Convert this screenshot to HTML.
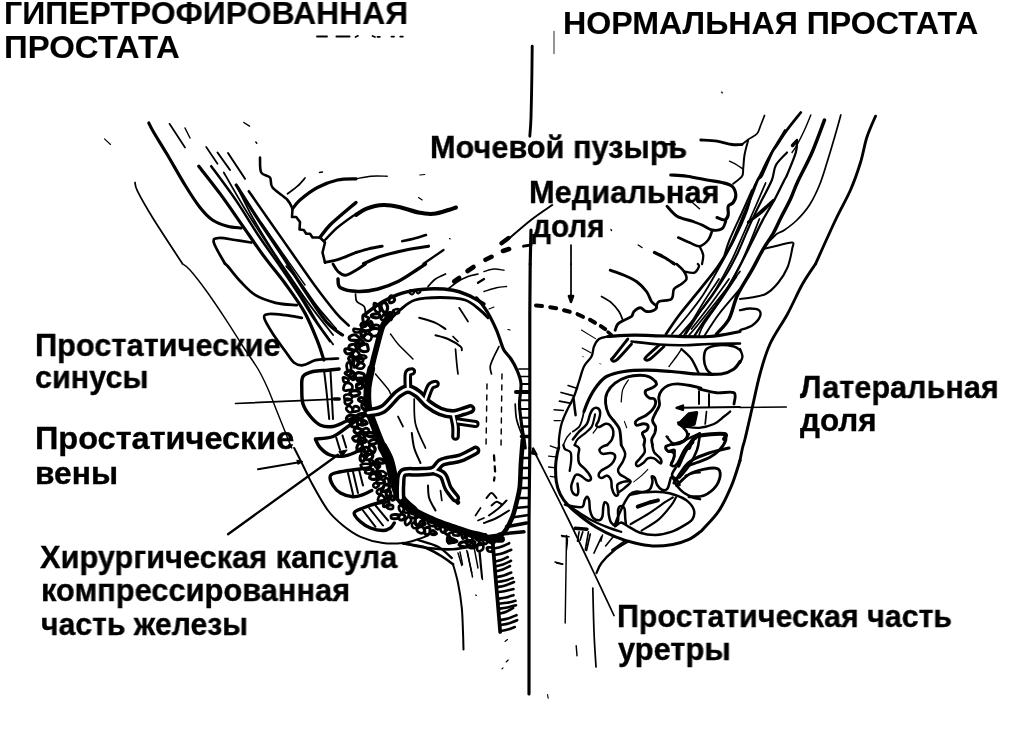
<!DOCTYPE html>
<html lang="ru">
<head>
<meta charset="utf-8">
<title>Простата</title>
<style>
html,body{margin:0;padding:0;background:#fff;}
body{width:1024px;height:736px;position:relative;overflow:hidden;font-family:"Liberation Sans",Arial,sans-serif;font-weight:bold;color:#000;}
.t{position:absolute;white-space:nowrap;line-height:1;transform-origin:0 0;will-change:transform;}
.h{font-size:32px;-webkit-text-stroke:0.12px #000;}
.l{font-size:31px;-webkit-text-stroke:0.35px #000;}
svg{position:absolute;left:0;top:0;}
</style>
</head>
<body>
<svg id="art" width="1024" height="736" viewBox="0 0 1024 736" fill="none" stroke="#000" stroke-width="2" stroke-linecap="round" stroke-linejoin="round">
<g>
<path d="M104.5 138.8L110.5 144.5" stroke-width="1.15"/>
<path d="M148.8 123C149.6 124.6 150.7 127.2 153.8 132.5C156.9 137.8 162.3 146.2 167.5 155C172.7 163.8 179.6 176.2 185 185C190.4 193.8 195.4 201.7 200 207.5C204.6 213.3 207.9 216.9 212.5 220C217.1 223.1 222.7 224.9 227.5 226.2C232.3 227.5 238.9 227.7 241.2 228" stroke-width="3.16"/>
<path d="M169.5 123.8L185 147.5" stroke-width="1.72"/>
<path d="M185 128L190 138" stroke-width="1.44"/>
<path d="M243.8 122.5L249.5 126.2" stroke-width="1.44"/>
<path d="M255.8 142L256.8 143.2" stroke-width="1.44"/>
<path d="M135 182.5C135.4 183.9 134.6 185.4 137.5 191.2C140.4 197.0 145.0 205.4 152.5 217.5C160.0 229.6 177.5 256.1 182.5 263.8" stroke-width="1.72"/>
<path d="M206.2 147L217.5 163.8" stroke-width="1.72"/>
<path d="M217.5 152.5L230 170" stroke-width="2.01"/>
<path d="M228 153L245 178.8" stroke-width="2.01"/>
<path d="M260 157.5C260.2 160.0 259.5 169.2 261.2 172.5C262.9 175.8 268.1 175.0 270 177.5C271.9 180.0 269.6 183.8 272.5 187.5C275.4 191.2 284.2 196.4 287.5 200C290.8 203.6 291.7 207.3 292.5 208.8" stroke-width="2.59"/>
<path d="M292.5 208.8L292 217L296.2 217L300 222L299.5 229.5L303.8 230L306.2 233.8L310 233.8L312.5 237.5L320 237.5L325 242.5L322.5 252.5L325 262.5" stroke-width="2.59"/>
<path d="M292.5 208.8C293.8 207.3 295.8 203.6 300 200C304.2 196.4 311.2 190.8 317.5 187.5C323.8 184.2 331.1 181.4 337.5 180C343.9 178.6 352.9 179.0 356 178.8" stroke-width="3.16"/>
<path d="M287.5 193.8C289.2 192.5 294.6 188.8 297.5 186.2C300.4 183.6 303.8 179.4 305 178" stroke-width="1.72"/>
<path d="M319.5 172.5L322.5 172" stroke-width="1.44"/>
<path d="M320 237.5C321.7 235.4 325.0 230.0 330 225C335.0 220.0 345.7 211.2 350 207.5C354.3 203.8 355.0 203.3 356 202.5" stroke-width="3.45"/>
<path d="M325 240C327.1 237.9 332.3 231.9 337.5 227.5C342.7 223.1 352.9 216.1 356 213.8" stroke-width="2.3"/>
<path d="M325 262.5C327.5 261.9 334.8 260.5 340 258.8C345.2 257.1 353.3 253.6 356 252.5" stroke-width="2.88"/>
<path d="M225 263.8C223.1 260.2 214.8 246.8 213.8 242.5C212.8 238.2 215.3 238.4 218.8 238C222.3 237.6 229.6 239.2 235 240C240.4 240.8 248.5 242.1 251.2 242.5" stroke-width="2.73"/>
<path d="M532.2 46.2C532.1 51.8 532.0 68.1 531.8 80C531.6 91.9 531.3 108.1 531 117.5C530.7 126.9 530.0 133.1 529.8 136.2" stroke-width="2.88"/>
<path d="M531 230L530.2 264" stroke-width="3.16"/>
<path d="M356 178.8C358.5 178.4 365.8 176.6 371 176.2C376.2 175.8 384.5 176.2 387.2 176.2" stroke-width="1.44"/>
<path d="M419.8 175L424.8 174.5" stroke-width="1.15"/>
<path d="M418.5 197.5L422.2 200" stroke-width="1.15"/>
<path d="M356 215C357.7 214.0 361.4 210.5 366 208.8C370.6 207.1 377.7 205.2 383.5 205C389.3 204.8 395.2 206.2 401 207.5C406.8 208.8 413.1 211.4 418.5 212.5C423.9 213.6 428.5 214.2 433.5 213.8C438.5 213.4 444.8 211.1 448.5 210C452.2 208.9 454.8 207.9 456 207.5" stroke-width="4.02"/>
<path d="M402.2 241.2C404.1 240.8 409.5 239.8 413.5 238.8C417.5 237.8 423.9 235.6 426 235" stroke-width="2.59"/>
<path d="M356 252.5C358.1 251.9 364.1 249.9 368.5 248.8C372.9 247.8 379.9 246.6 382.2 246.2" stroke-width="2.88"/>
<path d="M363.5 263.8C366.4 262.5 373.9 258.5 381 256.2C388.1 253.9 398.1 251.7 406 250C413.9 248.3 424.8 246.8 428.5 246.2" stroke-width="3.16"/>
<path d="M423.5 263.8 L443.5 250" stroke-width="2.3"/>
<path d="M449.5 238.5L450.2 239" stroke-width="1.15"/>
<path d="M552.2 205C548.7 207.5 538.7 214.0 531 220C523.3 226.0 510.2 237.7 506 241.2" stroke-width="2.01"/>
<path d="M501.5 243.2L508.5 238" stroke-width="4.31"/>
<path d="M503 251L509 249" stroke-width="4.6"/>
<path d="M485.5 259.8L491.5 256.8" stroke-width="4.6"/>
<path d="M523.5 246.2L531 245" stroke-width="2.88"/>
<path d="M571 245L571 264" stroke-width="1.72"/>
<path d="M611 229.5L611.5 230.5" stroke-width="1.44"/>
<path d="M721.8 92.2L722.2 92.8" stroke-width="1.44"/>
<path d="M665 144.2L674.5 144.2" stroke-width="2.59"/>
<path d="M700.8 140C703.5 140.2 711.8 140.4 717 141.2C722.2 141.9 727.8 143.9 732 144.5C736.2 145.1 740.3 144.5 742 144.5" stroke-width="2.88"/>
<path d="M742 144.5C743.0 143.7 745.7 141.3 748.2 139.5C750.7 137.7 754.9 136.2 757 133.8C759.1 131.4 759.5 128.1 760.8 125C762.0 122.0 763.9 117.1 764.5 115.5" stroke-width="1.72"/>
<path d="M748.2 140C747.6 142.5 745.3 150.2 744.5 155C743.7 159.8 743.6 165.3 743.2 168.8C742.8 172.3 743.7 173.7 742 176.2C740.3 178.7 734.7 182.5 733.2 183.8" stroke-width="2.01"/>
<path d="M729.5 161.2C730.8 161.8 734.8 163.7 737 165C739.2 166.3 741.6 168.2 742.5 168.8" stroke-width="1.44"/>
<path d="M670.8 175C673.5 175.2 681.0 175.4 687 176.2C693.0 177.0 701.2 178.9 707 180C712.8 181.1 717.8 181.5 722 182.5C726.2 183.5 729.7 184.1 732 186.2C734.3 188.3 735.6 192.3 735.8 195C736.0 197.7 734.5 200.6 733.2 202.5C731.9 204.4 729.0 204.1 728.2 206.2C727.4 208.3 728.8 212.7 728.2 215C727.6 217.3 726.4 219.6 724.5 220C722.6 220.4 718.2 217.9 717 217.5" stroke-width="3.16"/>
<path d="M667 206.2C668.7 207.9 672.8 213.7 677 216.2C681.2 218.7 687.8 219.7 692 221.2C696.2 222.7 698.7 223.5 702 225C705.3 226.5 708.7 229.4 712 230C715.3 230.6 719.7 230.3 722 228.8C724.3 227.3 725.2 222.5 725.8 221.2" stroke-width="2.88"/>
<path d="M689.5 200L699.5 208.8" stroke-width="1.44"/>
<path d="M678.2 237.5C680.1 238.3 686.0 241.1 689.5 242.5C693.0 243.9 696.4 246.6 699.5 246.2C702.6 245.8 706.1 242.5 708.2 240C710.3 237.5 711.4 232.7 712 231.2" stroke-width="2.59"/>
<path d="M699.5 246.2C700.1 247.7 702.8 252.0 703.2 255C703.6 258.0 702.2 262.5 702 264" stroke-width="2.3"/>
<path d="M654.5 252.5C656.2 253.3 661.2 255.6 664.5 257.5C667.8 259.4 672.8 262.9 674.5 264" stroke-width="3.16"/>
<path d="M638.2 245L642 247.5" stroke-width="1.44"/>
<path d="M875.5 116.2C874.0 119.8 869.3 129.8 866.8 137.5C864.3 145.2 863.2 153.8 860.5 162.5C857.8 171.2 854.7 180.4 850.5 190C846.3 199.6 841.3 207.7 835.5 220C829.7 232.3 818.8 256.7 815.5 264" stroke-width="2.88"/>
<path d="M840.8 115C839.8 118.8 836.8 129.6 834.5 137.5C832.2 145.4 829.5 154.6 827 162.5C824.5 170.4 822.4 177.9 819.5 185C816.6 192.1 813.2 199.2 809.5 205C805.8 210.8 801.2 215.8 797 220C792.8 224.2 787.8 227.7 784.5 230C781.2 232.3 779.5 231.9 777 233.8C774.5 235.7 770.8 240.0 769.5 241.2" stroke-width="1.72"/>
<path d="M810.8 115C809.8 117.5 806.8 125.0 804.5 130C802.2 135.0 799.1 141.2 797 145C794.9 148.8 792.8 151.2 792 152.5" stroke-width="1.44"/>
<path d="M792.5 145.5L796.5 141.2" stroke-width="3.45"/>
<path d="M774.5 200C772.4 202.1 765.8 209.2 762 212.5C758.2 215.8 753.7 218.8 752 220" stroke-width="1.72"/>
<path d="M752 190C750.3 193.8 745.8 204.2 742 212.5C738.2 220.8 732.4 232.9 729.5 240C726.6 247.1 725.3 252.5 724.5 255" stroke-width="2.01"/>
<path d="M225 263.5C225.5 264.0 225.4 263.5 228 266.5C230.6 269.5 235.9 276.7 240.5 281.5C245.1 286.3 249.7 291.6 255.5 295.2C261.3 298.8 268.6 301.1 275.5 302.8C282.4 304.5 293.2 304.8 296.8 305.2" stroke-width="2.73"/>
<path d="M301.8 317.8C299.1 317.4 290.9 315.8 285.5 315.2C280.1 314.6 272.8 313.6 269.2 314C265.6 314.4 263.6 314.5 264.2 317.8C264.8 321.1 269.4 328.4 273 334C276.6 339.6 282.0 346.7 285.5 351.5C289.0 356.3 291.3 360.5 294.2 362.8C297.1 365.1 299.4 365.6 303 365.2C306.6 364.8 311.3 361.2 315.5 360.2C319.7 359.2 324.2 359.3 328 359C331.8 358.7 336.3 358.6 338 358.5" stroke-width="2.73"/>
<path d="M339.2 369C337.3 369.2 332.4 369.8 328 370.2C323.6 370.6 317.2 370.4 313 371.5C308.8 372.6 304.9 373.6 303 376.5C301.1 379.4 301.8 384.4 301.8 389C301.8 393.6 301.6 399.4 303 404C304.4 408.6 307.6 413.0 310.5 416.5C313.4 420.0 316.8 423.5 320.5 425.2C324.2 426.9 328.8 427.1 333 426.5C337.2 425.9 342.2 422.9 345.5 421.5C348.8 420.1 351.8 418.4 353 417.8" stroke-width="3.45"/>
<path d="M324.2 371.5C324.6 375.2 326.0 386.1 326.8 394C327.6 401.9 328.8 414.8 329.2 419" stroke-width="2.01"/>
<path d="M330.5 371.5 L333 419" stroke-width="2.01"/>
<path d="M182.5 264C183.8 265.0 185.8 265.2 190 270C194.2 274.8 201.2 283.7 207.5 292.5C213.8 301.3 222.1 313.8 228 322.8C233.9 331.8 238.0 338.8 243 346.5C248.0 354.2 253.8 361.9 258 369C262.2 376.1 264.7 381.5 268 389C271.3 396.5 274.7 405.7 278 414C281.3 422.3 285.7 433.3 288 439C290.3 444.7 291.2 446.5 291.8 448" stroke-width="1.44"/>
<path d="M235.5 403.5L335.5 399.2" stroke-width="1.72"/>
<path d="M334.2 399L339.2 399" stroke-width="3.45"/>
<path d="M338 279C338.4 280.5 337.2 285.7 340.5 287.8C343.8 289.9 351.8 291.3 358 291.5C364.2 291.7 371.3 290.7 378 289C384.7 287.3 391.3 284.8 398 281.5C404.7 278.2 413.4 271.9 418 269C422.6 266.1 424.2 264.8 425.5 264" stroke-width="3.45"/>
<path d="M333 264C333.8 265.2 335.9 269.6 338 271.5C340.1 273.4 342.2 275.6 345.5 275.2C348.8 274.8 354.7 270.9 358 269C361.3 267.1 364.2 264.8 365.5 264" stroke-width="2.88"/>
<path d="M355.5 294C355.7 295.2 355.4 299.4 356.8 301.5C358.2 303.6 362.8 304.4 364.2 306.5C365.6 308.6 365.3 312.8 365.5 314" stroke-width="1.72"/>
<path d="M365.5 314C368.4 311.9 376.8 305.0 383 301.5C389.2 298.0 395.5 294.9 403 292.8C410.5 290.7 419.7 289.4 428 289C436.3 288.6 446.3 289.2 453 290.2C459.7 291.2 462.8 292.9 468 295.2C473.2 297.5 481.3 302.5 484 304" stroke-width="3.45"/>
<path d="M385 325C387.5 322.5 395.0 314.2 400 310C405.0 305.8 408.3 302.1 415 300C421.7 297.9 431.7 297.5 440 297.5C448.3 297.5 458.3 297.9 465 300C471.7 302.1 476.2 307.0 480 310C483.8 313.0 486.7 316.5 488 317.8" stroke-width="2.88"/>
<path d="M428 286.5C429.2 285.2 432.6 281.1 435.5 279C438.4 276.9 443.8 274.8 445.5 274" stroke-width="1.72"/>
<path d="M448 289C449.7 287.8 454.7 283.6 458 281.5C461.3 279.4 464.7 277.8 468 276.5C471.3 275.2 476.3 274.4 478 274" stroke-width="1.72"/>
<path d="M454.2 281.5L459.2 278" stroke-width="4.6"/>
<path d="M467.5 271L473.5 267" stroke-width="4.6"/>
<path d="M478 282.8L484 279" stroke-width="2.3"/>
<path d="M419.2 317.8C421.9 318.6 431.1 320.9 435.5 322.8C439.9 324.7 443.8 328.0 445.5 329" stroke-width="2.01"/>
<path d="M435.5 335.2C437.6 335.8 443.8 337.1 448 339C452.2 340.9 458.2 344.6 460.5 346.5C462.8 348.4 461.6 349.6 461.8 350.2" stroke-width="2.01"/>
<path d="M453 336.5L458 341.5" stroke-width="1.72"/>
<path d="M459.2 307.8L468 321.5" stroke-width="1.72"/>
<path d="M455.5 349C455.7 351.5 456.4 359.8 456.8 364C457.2 368.2 457.8 372.3 458 374" stroke-width="1.72"/>
<path d="M390.5 334C391.8 335.7 394.2 339.8 398 344C401.8 348.2 410.5 356.5 413 359" stroke-width="1.44"/>
<path d="M375.5 374C377.6 376.5 385.5 385.7 388 389C390.5 392.3 390.1 393.2 390.5 394" stroke-width="1.44"/>
<path d="M398 416.5L403 426.5" stroke-width="1.72"/>
<path d="M414.2 399C414.4 403.2 413.6 415.8 415.5 424C417.4 432.2 423.8 444.0 425.5 448" stroke-width="1.72"/>
<path d="M390.5 314C389.2 315.9 385.3 319.8 383 325.2C380.7 330.6 378.8 339.2 376.8 346.5C374.8 353.8 372.8 361.9 371.2 369C369.6 376.1 368.1 385.7 367.5 389" stroke-width="5.75"/>
<path d="M371.2 369C370.6 372.3 367.9 382.3 367.5 389C367.1 395.7 367.2 402.3 368.5 409C369.8 415.7 373.1 422.5 375.5 429C377.9 435.5 381.8 444.8 383 448" stroke-width="7.76"/>
<path d="M315.5 439C318.4 438.6 327.6 438.6 333 436.5C338.4 434.4 343.8 429.4 348 426.5C352.2 423.6 356.3 420.2 358 419" stroke-width="3.45"/>
<path d="M408.5 291.5C408.5 290.8 410.9 289.9 411.8 290C412.8 290.1 414.2 291.2 414.2 292C414.2 292.8 412.8 294.6 411.8 294.5C410.9 294.4 408.5 292.2 408.5 291.5Z" stroke-width="2.01"/>
<path d="M416 291C416.1 290.3 417.8 289.4 418.5 289.5C419.2 289.6 420.6 290.8 420.5 291.5C420.4 292.2 418.8 293.6 418 293.5C417.2 293.4 415.9 291.7 416 291Z" stroke-width="2.01"/>
<path d="M530.2 264L529.8 314L529.8 448" stroke-width="3.16"/>
<path d="M571 264L571 299" stroke-width="1.72"/>
<path d="M568.8 296L573.2 296L571 302Z" stroke-width="2.3" fill="#000"/>
<path d="M536 305.5L542 306" stroke-width="4.02"/>
<path d="M550.2 307.2L556.2 308.2" stroke-width="4.02"/>
<path d="M564 310.2L569.8 311.8" stroke-width="4.02"/>
<path d="M577.5 314.2L583 316.8" stroke-width="4.02"/>
<path d="M590 319.8L595 322.8" stroke-width="4.02"/>
<path d="M600.8 326.2L605.2 329.2" stroke-width="4.02"/>
<path d="M608 332L611.5 335" stroke-width="3.45"/>
<path d="M476.5 297.8C477.8 299.3 481.7 303.8 484 307C486.3 310.2 488.1 313.1 490.2 317C492.3 320.9 494.8 326.3 496.5 330.2C498.2 334.1 498.9 336.9 500.2 340.2C501.4 343.5 502.2 347.1 504 350.2C505.8 353.3 508.8 355.7 511 359C513.2 362.3 515.3 366.0 517 370.2C518.7 374.4 520.6 378.4 521 384C521.4 389.6 519.4 397.3 519.5 404C519.6 410.7 520.8 418.2 521.5 424C522.2 429.8 523.4 435.0 524 439C524.6 443.0 525.0 446.5 525.2 448" stroke-width="3.16"/>
<path d="M519 369L529 369" stroke-width="1.72"/>
<path d="M520.2 376.5L529 376.5" stroke-width="1.72"/>
<path d="M521 384L529 384" stroke-width="2.01"/>
<path d="M516 392L529 392" stroke-width="4.02"/>
<path d="M520.2 400.2L529 400.2" stroke-width="2.01"/>
<path d="M519 409L529 409" stroke-width="2.01"/>
<path d="M520.2 417.8L529 417.8" stroke-width="2.01"/>
<path d="M521.5 426.5L529 426.5" stroke-width="2.59"/>
<path d="M521.5 436.5L529 436.5" stroke-width="3.45"/>
<path d="M484 271.5C485.7 271.1 490.7 269.2 494 269C497.3 268.8 502.3 270.0 504 270.2" stroke-width="1.44"/>
<path d="M484 291.5C486.1 290.9 492.8 288.6 496.5 287.8C500.2 287.0 504.8 286.7 506.5 286.5" stroke-width="1.44"/>
<path d="M489 309L494 307" stroke-width="1.15"/>
<path d="M507.8 329.5L510.2 330" stroke-width="1.15"/>
<path d="M499 346.5C498.2 348.2 495.5 353.2 494 356.5C492.5 359.8 490.6 363.6 490.2 366.5C489.8 369.4 491.3 372.8 491.5 374" stroke-width="1.72"/>
<path d="M487 384L486 448" stroke-width="1.44" stroke-dasharray="5 6"/>
<path d="M502 374L501 448" stroke-width="1.44" stroke-dasharray="5 6"/>
<path d="M515.2 404C515.4 406.5 515.5 414.0 516.5 419C517.5 424.0 520.7 431.5 521.5 434" stroke-width="1.72"/>
<path d="M610.2 270.2C612.5 271.0 619.6 273.3 624 275.2C628.4 277.1 632.8 278.8 636.5 281.5C640.2 284.2 644.0 288.2 646.5 291.5C649.0 294.8 649.8 299.0 651.5 301.5C653.2 304.0 656.1 305.1 656.5 306.5C656.9 307.9 655.7 309.4 654 310.2C652.3 311.0 648.8 311.9 646.5 311.5C644.2 311.1 642.3 307.8 640.2 307.8C638.1 307.8 635.5 310.1 634 311.5C632.5 312.9 633.2 315.1 631.5 316.5C629.8 317.9 626.3 318.9 624 320.2C621.7 321.4 619.3 322.3 617.8 324C616.3 325.7 615.6 329.2 615.2 330.2" stroke-width="2.88"/>
<path d="M601.5 296.5C603.2 297.6 608.6 300.3 611.5 302.8C614.4 305.3 617.1 308.6 619 311.5C620.9 314.4 622.2 318.8 622.8 320.2" stroke-width="1.72"/>
<path d="M656.5 306.5C656.9 305.7 656.5 302.8 659 301.5C661.5 300.2 669.0 301.1 671.5 299C674.0 296.9 672.3 291.5 674 289C675.7 286.5 679.4 285.7 681.5 284C683.6 282.3 686.1 281.1 686.5 279C686.9 276.9 685.7 274.0 684 271.5C682.3 269.0 677.8 265.2 676.5 264" stroke-width="2.59"/>
<path d="M684 271.5C685.7 271.7 691.5 273.6 694 272.8C696.5 272.0 698.4 268.0 699 266.5C699.6 265.0 698.0 264.4 697.8 264" stroke-width="2.3"/>
<path d="M607.8 336.5C612.2 336.3 624.2 335.3 634 335.2C643.8 335.1 654.0 335.8 666.5 336C679.0 336.2 696.8 337.2 709 336.5C721.2 335.8 734.8 332.3 740 331.5" stroke-width="3.16"/>
<path d="M631.5 341.5C636.1 342.0 650.2 343.9 659 344.5C667.8 345.1 675.7 345.3 684 345.2C692.3 345.1 699.7 344.3 709 344C718.3 343.7 734.8 343.6 740 343.5" stroke-width="2.59"/>
<path d="M627.8 339C625.5 341.9 616.7 353.1 614 356.5C611.3 359.9 611.1 358.9 611.5 359.5C611.9 360.1 613.2 362.8 616.5 360.2C619.8 357.6 629.0 346.7 631.5 344" stroke-width="2.88"/>
<path d="M659 345.2C656.9 347.1 648.8 354.1 646.5 356.5C644.2 358.9 644.6 359.1 645.2 359.5C645.8 359.9 647.1 361.2 650.2 359C653.3 356.8 661.7 348.6 664 346.5" stroke-width="2.88"/>
<path d="M607.8 336.5C606.3 336.9 601.3 337.3 599 339C596.7 340.7 595.2 343.6 594 346.5C592.8 349.4 593.2 353.2 591.5 356.5C589.8 359.8 586.1 362.3 584 366.5C581.9 370.7 580.7 376.5 579 381.5C577.3 386.5 576.1 391.5 574 396.5C571.9 401.5 568.6 406.9 566.5 411.5C564.4 416.1 562.8 419.4 561.5 424C560.2 428.6 559.4 435.0 559 439C558.6 443.0 559.0 446.5 559 448" stroke-width="2.3"/>
<path d="M584 411.5C584.8 409.4 586.9 403.2 589 399C591.1 394.8 593.6 390.2 596.5 386.5C599.4 382.8 601.9 379.0 606.5 376.5C611.1 374.0 617.3 372.6 624 371.5C630.7 370.4 638.6 370.2 646.5 370.2C654.4 370.2 663.2 370.9 671.5 371.5C679.8 372.1 688.2 373.6 696.5 374C704.8 374.4 715.2 374.8 721.5 374C727.8 373.2 730.9 371.1 734 369C737.1 366.9 739.0 362.8 740 361.5" stroke-width="3.16"/>
<path d="M740 289C736.5 293.2 725.0 306.1 719 314C713.0 321.9 706.5 332.8 704 336.5" stroke-width="2.01"/>
<path d="M740 271.5C736.1 276.5 723.8 292.3 716.5 301.5C709.2 310.7 701.1 320.9 696.5 326.5C691.9 332.1 690.2 333.8 689 335.2" stroke-width="1.72"/>
<path d="M729 279C725.7 283.6 715.2 298.2 709 306.5C702.8 314.8 694.4 325.2 691.5 329" stroke-width="1.72"/>
<path d="M719 279C716.5 282.8 709.8 292.1 704 301.5C698.2 310.9 687.3 329.6 684 335.2" stroke-width="1.72"/>
<path d="M736.5 276.5C734.0 280.2 726.9 291.1 721.5 299C716.1 306.9 707.8 318.0 704 324C700.2 330.0 699.8 333.3 699 335.2" stroke-width="1.72"/>
<path d="M711.5 374C710.7 373.2 707.8 371.5 706.5 369C705.2 366.5 704.0 362.3 704 359C704.0 355.7 704.0 351.3 706.5 349C709.0 346.7 714.4 345.6 719 345.2C723.6 344.8 730.5 345.7 734 346.5C737.5 347.3 739.0 349.6 740 350.2" stroke-width="2.59"/>
<path d="M681.5 349C683.2 350.7 688.6 354.8 691.5 359C694.4 363.2 697.8 371.5 699 374" stroke-width="2.3"/>
<path d="M669 366.5C670.2 364.8 674.4 359.4 676.5 356.5C678.6 353.6 680.7 350.2 681.5 349" stroke-width="1.44"/>
<path d="M699 389C701.9 389.6 710.7 392.2 716.5 392.8C722.3 393.4 731.1 390.9 734 392.8C736.9 394.7 734.0 402.1 734 404" stroke-width="2.88"/>
<path d="M740 407L681.5 407.8" stroke-width="2.01"/>
<path d="M683 405.5L683 410L676.5 407.8Z" stroke-width="2.3" fill="#000"/>
<path d="M699 391.5L699 404" stroke-width="2.01"/>
<path d="M709 394L709 406.5" stroke-width="2.01"/>
<path d="M679 424L689 414L696.5 412.8L694 424L684 426.5Z" stroke-width="3.45" fill="#000"/>
<path d="M684 426.5C686.5 426.7 694.0 428.2 699 427.8C704.0 427.4 709.8 425.9 714 424C718.2 422.1 721.3 418.6 724 416.5C726.7 414.4 729.2 412.3 730.2 411.5" stroke-width="2.3"/>
<path d="M706.5 411.5L705.2 424" stroke-width="1.72"/>
<path d="M689 448C690.2 446.1 690.7 438.8 696.5 436.5C702.3 434.2 719.4 433.6 724 434C728.6 434.4 724.0 438.2 724 439" stroke-width="4.02"/>
<path d="M666.5 436.5C667.8 437.8 671.1 443.2 674 444C676.9 444.8 681.5 443.2 684 441.5C686.5 439.8 688.2 435.2 689 434" stroke-width="2.3"/>
<path d="M815.5 264C813.3 267.3 807.2 275.7 802.5 284C797.8 292.3 792.9 304.0 787.5 314C782.1 324.0 774.6 334.0 770 344C765.4 354.0 762.9 363.6 760 374C757.1 384.4 755.0 395.7 752.5 406.5C750.0 417.3 746.7 432.1 745 439C743.3 445.9 743.3 444.4 742.5 448C741.7 451.6 740.4 458.4 740 460.5" stroke-width="2.88"/>
<path d="M740 310.2C741.7 309.9 746.9 308.5 750 308.5C753.1 308.5 757.1 308.9 758.8 310.2C760.5 311.5 761.0 314.0 760 316.5C759.0 319.0 755.8 322.9 752.5 325.2C749.2 327.5 742.1 329.4 740 330.2" stroke-width="2.3"/>
<path d="M740 349C740.4 350.2 742.5 354.2 742.5 356.5C742.5 358.8 740.4 361.8 740 362.8" stroke-width="2.3"/>
<path d="M786.2 407L740 407.5" stroke-width="1.72"/>
<path d="M258 469.2L299.2 462.2" stroke-width="2.01"/>
<path d="M297 460.2L298 464.2L302.5 461.5Z" stroke-width="1.15" fill="#000"/>
<path d="M228 534.2L338 454.8" stroke-width="2.3"/>
<path d="M339 451.5L342 456.5L347 450Z" stroke-width="1.15" fill="#000"/>
<path d="M294.2 448C295.7 450.9 299.9 459.2 303 465.5C306.1 471.8 308.8 478.0 313 485.5C317.2 493.0 323.0 503.8 328 510.5C333.0 517.2 337.6 521.1 343 525.5C348.4 529.9 353.8 533.9 360.5 536.8C367.2 539.7 375.9 542.0 383 543C390.1 544.0 397.2 543.6 403 543C408.8 542.4 413.8 540.5 418 539.2C422.2 538.0 426.3 536.1 428 535.5" stroke-width="2.01"/>
<path d="M368 468C366.3 468.2 362.6 468.6 358 469.2C353.4 469.8 345.1 470.8 340.5 471.8C335.9 472.9 331.8 473.2 330.5 475.5C329.2 477.8 331.3 482.6 333 485.5C334.7 488.4 337.2 491.1 340.5 493C343.8 494.9 349.1 496.6 353 496.8C356.9 497.0 361.1 495.2 364.2 494.2C367.3 493.1 370.5 491.1 371.8 490.5" stroke-width="3.45"/>
<path d="M348 473L353 494.2" stroke-width="2.01"/>
<path d="M353 471.8L358 493" stroke-width="2.01"/>
<path d="M359.2 470.5L363 485.5" stroke-width="2.01"/>
<path d="M388 501.8C386.3 502.0 382.2 502.0 378 503C373.8 504.0 367.0 506.3 363 508C359.0 509.7 354.6 510.7 354.2 513C353.8 515.3 357.8 519.3 360.5 521.8C363.2 524.3 366.8 526.5 370.5 528C374.2 529.5 379.7 530.5 383 530.5C386.3 530.5 388.6 529.2 390.5 528C392.4 526.8 393.6 523.8 394.2 523" stroke-width="3.45"/>
<path d="M363 510.5L375.5 526.8" stroke-width="2.01"/>
<path d="M369.2 508L383 525.5" stroke-width="2.01"/>
<path d="M375.5 505.5L388 520.5" stroke-width="2.01"/>
<path d="M382.5 446.8C383.6 449.1 387.4 455.3 389.2 460.5C391.0 465.7 391.6 471.8 393.5 478C395.4 484.2 397.2 492.6 400.5 498C403.8 503.4 410.9 508.4 413 510.5" stroke-width="9.77"/>
<path d="M400.5 498C402.6 500.1 407.6 506.8 413 510.5C418.4 514.2 426.3 517.6 433 520.5C439.7 523.4 447.2 525.9 453 528C458.8 530.1 462.8 531.5 468 533C473.2 534.5 481.3 536.2 484 536.8" stroke-width="7.76"/>
<path d="M403 543C407.2 543.8 419.7 547.0 428 548C436.3 549.0 443.7 549.8 453 549.2C462.3 548.6 478.8 545.0 484 544.2" stroke-width="2.59"/>
<path d="M403 543.5C406.3 544.0 416.8 544.8 423 546.8C429.2 548.8 435.5 552.6 440.5 555.5C445.5 558.4 450.9 562.8 453 564.2" stroke-width="2.59"/>
<path d="M418 540C421.3 541.1 432.4 543.8 438 546.8C443.6 549.8 449.5 556.1 451.8 558" stroke-width="2.3"/>
<path d="M453 564.2C453.8 567.3 456.5 575.7 458 583C459.5 590.3 461.0 599.8 461.8 608C462.6 616.2 462.7 625.1 463 632C463.3 638.9 463.4 646.6 463.5 649.5" stroke-width="2.01"/>
<path d="M458 553L461.8 565.5" stroke-width="1.44"/>
<path d="M466.8 550.5L471.8 573" stroke-width="1.44"/>
<path d="M474.2 548L478 568" stroke-width="1.44"/>
<path d="M479.2 553L481.8 578" stroke-width="1.44"/>
<path d="M475.5 515.5L480.5 508" stroke-width="1.72"/>
<path d="M478 520.5L484 518" stroke-width="1.72"/>
<path d="M475.5 595L476.5 595.5" stroke-width="1.15"/>
<path d="M411.8 433C412.2 435.5 412.8 443.0 414.2 448C415.6 453.0 419.4 460.5 420.5 463" stroke-width="2.01"/>
<path d="M456.8 501L458 502.5" stroke-width="4.6"/>
<path d="M428 485.5C428.2 487.6 427.9 493.8 429.2 498C430.4 502.2 434.4 508.4 435.5 510.5" stroke-width="2.01"/>
<path d="M440.5 490.5L441.8 500.5" stroke-width="1.72"/>
<path d="M529.8 448L529 523L529 694" stroke-width="3.16"/>
<path d="M614 615.5C610.7 608.4 601.9 589.7 594 573C586.1 556.3 576.5 535.8 566.5 515.5C556.5 495.2 539.4 461.8 534 451" stroke-width="1.72"/>
<path d="M532 453.5L536.5 454.5L533.2 448.5Z" stroke-width="2.3" fill="#000"/>
<path d="M676.5 485.5C679.0 483.4 685.2 475.9 691.5 473C697.8 470.1 709.2 468.0 714 468C718.8 468.0 719.8 470.1 720.2 473C720.6 475.9 719.2 481.8 716.5 485.5C713.8 489.2 708.6 493.6 704 495.5C699.4 497.4 691.5 496.6 689 496.8" stroke-width="2.88"/>
<path d="M674 483C675.7 480.5 681.1 471.8 684 468C686.9 464.2 687.3 463.0 691.5 460.5C695.7 458.0 702.8 455.1 709 453C715.2 450.9 725.7 448.8 729 448" stroke-width="3.16"/>
<path d="M494 455.5L495.2 473L494 480.5" stroke-width="2.3" stroke-dasharray="5 6"/>
<path d="M522.8 440C522.5 443.8 521.5 455.2 521 463C520.5 470.8 520.5 480.4 519.8 487C519.0 493.6 517.8 497.3 516.5 502.5C515.2 507.7 514.3 512.8 512 518C509.7 523.2 506.7 530.6 502.5 533.8C498.3 537.0 490.1 536.4 487 537C483.9 537.6 484.5 537.4 484 537.5" stroke-width="4.6"/>
<path d="M521.5 458L529 458" stroke-width="2.59"/>
<path d="M521 468L529 468" stroke-width="2.59"/>
<path d="M520.5 478L529 478" stroke-width="2.59"/>
<path d="M519.8 488L529 488" stroke-width="2.59"/>
<path d="M517.8 498L529 498" stroke-width="2.59"/>
<path d="M515.2 508L529 506.8" stroke-width="2.59"/>
<path d="M512 517.5L528.5 515" stroke-width="2.59"/>
<path d="M506.5 526.8L526.5 523" stroke-width="3.45"/>
<path d="M499 534.2L524 531.8" stroke-width="3.45"/>
<path d="M489 539.2L501.5 539.2" stroke-width="6.9"/>
<path d="M486.5 498C487.3 497.2 489.8 493.0 491.5 493C493.2 493.0 495.7 497.2 496.5 498" stroke-width="2.01"/>
<path d="M489 515.5C490.7 514.2 496.1 510.5 499 508C501.9 505.5 505.2 501.8 506.5 500.5" stroke-width="2.01"/>
<path d="M484 523C486.1 522.2 492.3 520.1 496.5 518C500.7 515.9 506.9 511.8 509 510.5" stroke-width="2.01"/>
<path d="M491.5 505.5C492.3 504.9 494.8 502.0 496.5 501.8C498.2 501.6 500.7 503.8 501.5 504.2" stroke-width="2.01"/>
<path d="M493.5 548.5C494.8 548.2 498.6 547.7 501.2 546.8C503.8 545.9 507.9 543.8 509.2 543.2" stroke-width="2.59"/>
<path d="M494 555C495.5 554.7 499.9 554.1 502.8 553.2C505.7 552.3 509.8 550.4 511.2 549.8" stroke-width="2.59"/>
<path d="M494.5 561.5C495.6 561.2 499.0 560.8 501.2 560C503.4 559.2 506.7 557.5 507.8 557" stroke-width="2.59"/>
<path d="M495 566.5C496.3 566.2 500.3 565.5 503 564.5C505.7 563.5 509.7 561.4 511 560.8" stroke-width="2.59"/>
<path d="M495.5 571.5C496.7 571.2 500.4 570.4 502.8 569.5C505.2 568.6 508.8 566.6 510 566" stroke-width="2.59"/>
<path d="M496 577.2C497.3 576.9 501.3 576.3 503.8 575.5C506.3 574.7 510.0 573.0 511.2 572.5" stroke-width="2.59"/>
<path d="M496.2 582.2C497.6 582.0 501.7 581.5 504.5 580.8C507.3 580.1 511.4 578.5 512.8 578" stroke-width="2.59"/>
<path d="M496.8 587.2C498.2 586.9 502.3 586.4 505.2 585.5C508.1 584.6 512.5 582.6 514 582" stroke-width="2.59"/>
<path d="M497.2 592.2C498.6 592.0 502.8 591.5 505.5 591C508.2 590.5 512.2 589.3 513.5 589" stroke-width="2.59"/>
<path d="M497.8 598.8C499.1 598.6 503.2 598.1 505.8 597.5C508.4 596.9 512.2 595.6 513.5 595.2" stroke-width="2.59"/>
<path d="M498.2 603.8C499.6 603.6 503.9 603.3 506.8 602.8C509.7 602.3 514.0 601.1 515.5 600.8" stroke-width="2.59"/>
<path d="M498.5 608.8C499.9 608.6 504.3 608.1 507.2 607.5C510.1 606.9 514.5 605.6 516 605.2" stroke-width="2.59"/>
<path d="M499 613.8C500.2 613.5 503.8 612.8 506.2 611.8C508.6 610.8 512.0 608.5 513.2 607.8" stroke-width="2.59"/>
<path d="M499.5 620.2C500.9 619.9 505.2 619.3 508 618.5C510.8 617.7 515.1 615.8 516.5 615.2" stroke-width="2.59"/>
<path d="M500 625.2C501.4 624.9 505.6 624.3 508.5 623.5C511.4 622.7 515.8 620.8 517.2 620.2" stroke-width="2.59"/>
<path d="M500.5 631C501.7 630.8 505.4 630.2 507.8 629.5C510.2 628.8 513.6 627.4 514.8 627" stroke-width="2.59"/>
<path d="M492.8 543C493.2 548.0 494.4 563.0 495.2 573C496.0 583.0 497.0 593.2 497.8 603C498.6 612.8 499.8 627.2 500.2 632" stroke-width="3.74"/>
<path d="M566.5 535.5L565.2 623" stroke-width="1.44"/>
<path d="M561.5 535.5L569 536.8" stroke-width="1.44"/>
<path d="M556.5 563L562.8 564.2" stroke-width="1.44"/>
<path d="M592.8 588C593.0 595.3 593.5 618.8 594 632C594.5 645.2 595.7 661.2 596 667" stroke-width="1.72"/>
<path d="M576.2 645.8L577 655.8" stroke-width="1.44"/>
<path d="M547.5 694.5L548.2 698.2" stroke-width="1.15"/>
<path d="M555 562L562.5 564" stroke-width="1.44"/>
<path d="M505 641.5L507.5 639.5" stroke-width="1.15"/>
<path d="M506.2 662L508.2 660" stroke-width="1.15"/>
<path d="M502 668.8L503 667.8" stroke-width="1.15"/>
<path d="M460 552L462.5 564.5" stroke-width="1.44"/>
<path d="M467.5 552L472.5 577" stroke-width="1.44"/>
<path d="M480 552L482.5 579.5" stroke-width="1.44"/>
<path d="M724.5 433.8C724.7 434.8 726.6 437.3 725.8 440C725.0 442.7 722.2 447.1 719.5 450C716.8 452.9 713.2 455.4 709.5 457.5C705.8 459.6 700.3 461.2 697 462.5C693.7 463.8 690.8 464.6 689.5 465" stroke-width="2.88"/>
<path d="M699.5 437.5C699.1 439.6 698.7 445.4 697 450C695.3 454.6 692.4 460.4 689.5 465C686.6 469.6 681.2 475.4 679.5 477.5" stroke-width="2.59"/>
<path d="M675.8 467.5C675.2 468.8 671.8 472.9 672 475C672.2 477.1 675.8 478.3 677 480C678.2 481.7 679.1 484.2 679.5 485" stroke-width="2.59"/>
<path d="M678.2 422.5C679.7 424.2 686.0 429.6 687 432.5C688.0 435.4 686.6 438.1 684.5 440C682.4 441.9 677.6 442.8 674.5 443.8C671.4 444.8 666.8 445.0 665.8 446.2C664.8 447.4 666.8 450.6 668.2 451.2C669.7 451.8 673.7 448.5 674.5 450C675.3 451.5 673.8 457.5 673.2 460C672.6 462.5 671.2 464.2 670.8 465" stroke-width="2.59"/>
<path d="M629 541C626.5 542.6 618.6 546.8 614 550.5C609.4 554.2 604.4 559.2 601.5 563C598.6 566.8 597.3 571.3 596.5 573" stroke-width="2.3"/>
<path d="M590.2 534.2L586.5 550.5" stroke-width="1.72"/>
<path d="M601.5 536.8L594 553" stroke-width="1.72"/>
<path d="M582.8 531.8L580.2 540" stroke-width="1.72"/>
<path d="M655.6 381.6C654.6 380.8 652.0 377.9 649.4 376.9C646.8 375.8 643.6 375.3 640 375.3C636.4 375.3 631.7 375.6 627.5 376.9C623.3 378.2 618.4 380.5 615 383.1C611.6 385.7 608.8 389.1 607.2 392.5C605.6 395.9 605.3 399.8 605.6 403.4C605.9 407.0 607.2 411.3 608.8 414.4C610.4 417.5 613.2 419.6 615 422.2C616.8 424.8 618.7 426.2 619.7 430C620.7 433.8 621.0 442.5 621.2 445" stroke-width="2.87"/>
<path d="M655.6 381.6C655.7 382.1 656.9 383.7 656.4 384.7C655.9 385.7 654.2 386.9 652.5 387.8C650.8 388.7 647.4 389.1 646.2 390.2C645.0 391.2 645.0 392.8 645.5 394.1C646.0 395.4 648.0 397.2 649.4 398C650.8 398.8 653.1 397.9 654.1 398.8C655.1 399.7 655.9 401.6 655.6 403.4C655.3 405.2 654.1 407.7 652.5 409.7C650.9 411.7 648.6 413.6 646.2 415.2C643.9 416.8 640.2 417.9 638.4 419.1C636.6 420.3 635.5 421.2 635.3 422.2C635.0 423.2 635.6 425.0 636.9 425.3C638.2 425.6 641.3 423.8 643.1 423.8C644.9 423.8 647.1 424.3 647.8 425.3C648.4 426.3 647.9 428.7 647 430C646.1 431.3 642.7 431.5 642.3 433.1C641.9 434.7 644.4 437.4 644.7 439.4C645.0 441.4 644.0 444.1 643.9 445" stroke-width="2.87"/>
<path d="M628.3 380C627.4 381.6 624.0 385.8 622.8 389.4C621.6 393.0 621.5 399.8 621.2 401.9" stroke-width="1.26"/>
<path d="M624.4 421.4L626.7 427.7" stroke-width="1.08"/>
<path d="M572.8 439.4C573.8 438.1 576.8 434.2 579.1 431.6C581.5 429.0 585.1 426.7 586.9 423.8C588.7 420.9 589.0 416.9 590 414.4C591.0 411.9 591.8 409.9 593.1 408.9C594.4 407.8 596.6 407.5 597.8 408.1C599.0 408.8 600.1 410.7 600.2 412.8C600.3 414.9 599.3 418.5 598.6 420.6C597.9 422.7 596.1 424.2 596.2 425.3C596.3 426.4 597.8 427.1 599.4 426.9C601.0 426.6 603.8 424.1 605.6 423.8C607.4 423.5 609.0 424.0 610.3 425.3C611.6 426.6 613.1 429.2 613.4 431.6C613.7 434.0 612.9 437.2 611.9 439.4C610.9 441.6 608.0 444.1 607.2 445" stroke-width="2.52"/>
<path d="M593.1 433.1L597.8 426.9" stroke-width="1.26"/>
<path d="M574.7 445C575.2 444.1 575.7 441.4 577.5 439.4C579.3 437.4 582.9 435.2 585.3 433.1C587.6 431.0 590.2 429.1 591.6 426.9C593.0 424.7 593.3 421.9 593.9 419.8C594.5 417.7 594.8 415.3 595 414.4" stroke-width="2.16"/>
<path d="M700.9 388.1C699.1 387.7 693.9 386.2 690 385.5C686.1 384.8 681.1 383.9 677.5 383.9C673.9 383.9 670.7 384.4 668.1 385.5C665.5 386.6 663.5 388.2 661.9 390.2C660.3 392.1 659.2 394.7 658.8 397.2C658.4 399.7 660.0 402.4 659.5 405C659.0 407.6 656.8 410.2 655.6 412.8C654.4 415.4 652.5 418.2 652.5 420.6C652.5 423.0 655.2 424.8 655.6 426.9C656.0 429.0 655.4 431.0 654.8 433.1C654.1 435.2 652.1 437.4 651.7 439.4C651.3 441.4 652.4 444.1 652.5 445" stroke-width="2.87"/>
<path d="M667.8 435.9L668.8 436.9" stroke-width="0.9"/>
<path d="M700 433.1C698.3 433.9 693.2 436.2 690 437.8C686.8 439.4 683.5 441.3 680.6 442.5C677.7 443.7 674.1 444.6 672.8 445" stroke-width="2.16"/>
<path d="M573.6 398.8C573.8 400.4 574.4 405.4 574.7 408.1C575.0 410.8 575.5 414.0 575.6 415.2" stroke-width="2.52"/>
<path d="M581.4 330L595.5 338.6" stroke-width="1.08"/>
<path d="M582.2 348L590.8 352.7" stroke-width="1.08"/>
<path d="M582.7 356.2L583.4 357" stroke-width="0.9"/>
<path d="M599.8 363.3L600.6 364.1" stroke-width="0.9"/>
<path d="M568.1 385.5L577.5 388.6" stroke-width="1.62"/>
<path d="M561.1 392.5L572.8 395.6" stroke-width="1.8"/>
<path d="M559.5 401.1L571.2 403.4" stroke-width="1.8"/>
<path d="M554.1 409.7L563.4 410.5" stroke-width="1.44"/>
<path d="M554.1 420.6L560.3 420.6" stroke-width="1.26"/>
<path d="M563.4 445C563.9 443.8 565.4 439.8 566.6 437.8C567.8 435.8 569.9 433.9 570.5 433.1" stroke-width="1.44"/>
<path d="M583.9 411.4C583.6 412.7 583.0 416.5 582.2 419.1C581.4 421.7 580.7 424.8 579.1 426.9C577.5 429.0 573.8 430.8 572.8 431.6" stroke-width="1.8"/>
<path d="M558.6 448C558.4 449.0 557.7 450.8 557.2 453.8C556.7 456.8 555.7 461.5 555.6 466.2C555.5 470.9 555.6 477.2 556.4 481.9C557.2 486.6 558.3 490.5 560.3 494.4C562.2 498.3 564.7 501.7 568.1 505.3C571.5 508.9 575.9 512.6 580.6 516.2C585.3 519.9 590.5 523.8 596.2 527.2C601.9 530.6 608.7 534.0 615 536.6C621.3 539.2 627.5 541.2 633.8 542.8C640.0 544.3 646.0 545.6 652.5 545.9C659.0 546.2 666.8 545.4 672.8 544.4C678.8 543.4 683.9 541.8 688.4 539.7C692.9 537.6 697.4 533.9 700 531.9C702.6 529.9 700.9 531.6 704.1 528C707.3 524.4 714.5 517.6 719.1 510.5C723.7 503.4 728.1 493.8 731.6 485.5C735.1 477.2 738.6 464.7 740 460.5" stroke-width="3.05"/>
<path d="M550.2 445.9L557.2 448.3" stroke-width="1.26"/>
<path d="M548.6 456.1L555.6 456.9" stroke-width="1.26"/>
<path d="M548.6 467L555.6 467.8" stroke-width="1.26"/>
<path d="M550.2 476.4L555.6 477.2" stroke-width="1.26"/>
<path d="M629.8 494.7C635.0 489.3 640.6 492.6 646.2 492.2C651.8 491.8 658.5 491.7 663.4 492.2C668.3 492.7 672.0 493.8 675.9 495.2C679.8 496.6 683.9 498.1 686.9 500.6C689.9 503.1 693.0 506.9 693.9 510C694.8 513.1 694.0 516.8 692.3 519.4C690.6 522.0 687.3 523.5 683.8 525.6C680.3 527.7 675.9 530.3 671.2 531.9C666.5 533.5 660.8 534.9 655.6 535C650.4 535.1 644.4 534.1 640 532.7C635.6 531.4 632.2 528.6 629.1 526.9C626.0 525.2 623.6 522.9 621.2 522.5C618.9 522.1 613.6 529.4 615 524.8C616.4 520.2 624.6 500.1 629.8 494.7Z" stroke-width="2.52"/>
<path d="M566.6 503.8C568.4 505.1 573.3 508.9 577.5 511.6C581.7 514.3 586.6 517.6 591.6 520.2C596.6 522.8 602.3 525.2 607.2 527.2C612.1 529.2 618.9 531.1 621.2 531.9" stroke-width="2.34"/>
<path d="M637.7 506.6L649.4 502.5L658 500.3" stroke-width="3.95"/>
<path d="M630.6 524.1C633.7 522.3 643.7 516.8 649.4 513.1C655.1 509.5 661.1 504.8 665 502.2C668.9 499.6 671.5 498.3 672.8 497.5" stroke-width="2.16"/>
<path d="M641.6 530.6C644.5 528.7 653.9 523.6 658.8 519.4C663.7 515.2 668.4 508.9 671.2 505.3C674.1 501.7 675.1 498.8 675.9 497.5" stroke-width="2.16"/>
<path d="M574.7 445C575.4 445.6 578.5 446.6 579.1 448.3C579.7 450.0 578.3 452.8 578.3 455.3C578.3 457.8 577.9 460.8 579.1 463.1C580.3 465.5 583.5 467.3 585.3 469.4C587.1 471.5 589.1 473.9 590 475.6C590.9 477.3 591.3 478.7 590.8 479.5C590.3 480.3 588.6 480.9 586.9 480.3C585.2 479.7 582.4 476.5 580.6 475.6C578.8 474.7 577.1 474.3 575.9 474.8C574.7 475.3 574.4 476.8 573.6 478.8C572.8 480.8 571.3 484.3 571.2 486.6C571.1 488.9 571.9 491.4 572.8 492.8C573.7 494.2 575.8 495.5 576.7 495.2C577.6 494.9 578.2 493.2 578.3 491.2C578.4 489.2 577.6 484.7 577.5 483.4" stroke-width="2.52"/>
<path d="M563.4 445C563.7 445.7 563.8 447.9 565 449.1C566.2 450.3 569.5 450.4 570.5 452.2C571.5 454.0 571.3 456.9 571.2 460C571.1 463.1 570.0 469.1 569.7 470.9" stroke-width="2.34"/>
<path d="M607.2 445C606.4 445.3 603.8 445.9 602.5 446.7C601.2 447.5 599.4 448.6 599.4 449.8C599.4 451.0 600.7 453.3 602.5 453.8C604.3 454.3 608.2 452.8 610.3 453C612.4 453.2 614.5 453.9 615 455.3C615.5 456.7 614.4 459.8 613.4 461.6C612.4 463.4 610.9 464.6 608.8 466.2C606.7 467.8 602.6 469.3 600.9 470.9C599.2 472.5 598.5 474.4 598.6 475.6C598.7 476.8 600.3 478.0 601.7 478C603.1 478.0 605.6 475.2 607.2 475.6C608.8 476.0 610.3 478.2 611.1 480.3C611.9 482.4 611.2 485.6 611.9 488.1C612.5 490.6 614.0 494.1 615 495.2C616.0 496.2 617.7 496.1 618.1 494.4C618.5 492.7 616.5 487.1 617.3 485C618.1 482.9 620.8 482.5 622.8 481.9C624.8 481.2 628.0 481.2 629.1 481.1" stroke-width="2.52"/>
<path d="M621.2 445C621.9 446.5 624.9 451.0 625.2 453.8C625.5 456.6 624.0 459.0 622.8 461.6C621.6 464.2 618.6 467.3 618.1 469.4C617.6 471.5 618.4 472.7 619.7 474.1C621.0 475.5 624.1 476.7 625.9 478C627.7 479.3 630.9 480.2 630.6 481.9C630.4 483.6 626.5 486.3 624.4 488.1C622.3 489.9 619.1 492.0 618.1 492.8" stroke-width="2.52"/>
<path d="M643.9 445C644.0 446.2 645.4 450.0 644.7 452.2C644.1 454.4 641.4 456.6 640 458.4C638.6 460.2 636.5 461.8 636.1 463.1C635.7 464.4 636.5 466.2 637.7 466.2C638.9 466.2 641.4 464.4 643.1 463.1C644.8 461.8 646.0 459.2 647.8 458.4C649.6 457.6 652.3 457.8 654.1 458.4C655.9 459.0 657.6 461.5 658.8 462.3C660.0 463.1 660.9 463.8 661.1 463.1C661.4 462.5 661.5 460.2 660.3 458.4C659.1 456.6 655.5 454.4 654.1 452.2C652.8 450.0 652.5 446.2 652.2 445" stroke-width="2.52"/>
<path d="M686.9 438.1C685.9 438.9 683.2 441.8 680.6 442.8C678.0 443.9 673.7 443.6 671.2 444.4C668.7 445.2 666.3 446.3 665.8 447.5C665.3 448.7 666.9 450.6 668.1 451.4C669.3 452.2 671.8 451.3 672.8 452.2C673.8 453.1 674.7 455.1 674.4 456.9C674.1 458.7 671.5 461.6 671.2 463.1C670.9 464.7 671.8 466.2 672.8 466.2C673.8 466.2 675.7 465.7 677.5 463.1C679.3 460.5 681.7 454.0 683.8 450.6C685.9 447.2 687.9 444.9 690 442.8C692.1 440.7 695.2 438.9 696.2 438.1" stroke-width="2.52"/>
<path d="M678.3 465.5C679.5 463.0 683.0 454.5 685.3 450.6C687.6 446.7 691.1 443.4 692.3 442" stroke-width="4.31"/>
<path d="M565 504.5C566.0 504.8 568.3 505.7 571.2 506.1C574.1 506.5 580.0 507.8 582.2 506.9C584.4 506.0 583.7 502.3 584.5 500.6C585.3 498.9 586.1 496.7 586.9 496.7C587.7 496.7 588.7 498.4 589.2 500.6C589.7 502.8 589.4 507.1 590 510C590.6 512.9 591.5 516.1 593.1 517.8C594.7 519.5 597.8 520.5 599.4 520.2C601.0 519.9 601.9 518.4 602.5 516.2C603.1 514.0 602.9 509.2 603.3 506.9C603.7 504.6 604.0 502.5 604.8 502.2C605.6 501.9 607.3 503.2 608 505.3C608.7 507.4 608.3 511.8 608.8 514.7C609.3 517.6 609.9 520.8 611.1 522.5C612.3 524.2 614.6 525.2 615.8 524.8C617.0 524.4 617.7 522.7 618.1 520.2C618.5 517.7 617.7 512.4 618.1 510C618.5 507.6 619.5 506.4 620.5 506.1C621.5 505.8 623.6 506.4 624.4 508.4C625.2 510.3 625.0 515.2 625.2 517.8C625.5 520.4 625.8 523.0 625.9 524.1" stroke-width="2.52"/>
<path d="M629.8 494.7C631.5 494.4 636.7 493.6 640 492.8C643.3 492.0 647.3 491.5 649.4 489.7C651.5 487.9 652.1 484.1 652.5 481.9C652.9 479.7 651.3 477.0 651.7 476.4C652.1 475.8 653.9 476.6 654.8 478C655.7 479.4 656.0 483.1 657.2 485C658.4 486.9 660.2 489.1 661.9 489.7C663.6 490.3 666.0 490.2 667.3 488.9C668.6 487.6 669.1 483.8 669.7 481.9C670.4 479.9 670.4 477.5 671.2 477.2C672.0 476.9 673.4 478.7 674.4 480.3C675.4 481.9 675.9 484.5 677.5 486.6C679.1 488.7 681.2 491.0 683.8 492.8C686.4 494.6 690.4 496.4 693.1 497.5C695.8 498.6 698.9 498.8 700 499.1" stroke-width="2.52"/>
<path d="M647.8 469.4C646.8 470.4 643.9 473.5 641.6 475.6C639.3 477.7 635.1 480.8 633.8 481.9" stroke-width="1.08"/>
<path d="M685.3 475.6C686.6 475.2 690.6 473.8 693.1 473.3C695.6 472.8 698.9 472.6 700 472.5" stroke-width="1.8"/>
<path d="M561.9 536.6C562.8 536.9 566.5 535.9 567.3 538.1C568.1 540.3 566.7 548.0 566.6 550" stroke-width="1.26"/>
<path d="M575.2 528.3L586.9 529.2" stroke-width="3.59"/>
<path d="M579.1 531.9L577.5 541.2" stroke-width="1.62"/>
<path d="M588.4 531.9L585.3 550" stroke-width="1.62"/>
<path d="M602.5 535L600.9 541.2" stroke-width="1.44"/>
<path d="M613.4 536.6L605.6 545.9" stroke-width="1.62"/>
<path d="M624.4 541.2L611.9 550" stroke-width="1.8"/>
<path d="M824.5 120C822.4 125.4 816.4 142.3 812 152.5C807.6 162.7 801.6 173.3 798 181C794.4 188.7 793.4 192.7 790.6 198.8C787.8 204.9 783.9 211.8 781 217.5C778.1 223.2 776.5 227.5 773.4 233C770.3 238.5 766.1 244.0 762.5 250.3C758.9 256.6 755.8 263.2 751.6 270.6C747.4 278.1 741.3 286.9 737.5 295C733.7 303.1 732.5 312.5 729 319C725.5 325.5 718.6 331.5 716.5 334" stroke-width="3.45"/>
<path d="M800.8 112.5C798.5 115.4 791.0 124.6 787 130C783.0 135.4 779.5 141.2 777 145C774.5 148.8 774.5 147.5 772 152.5C769.5 157.5 764.4 170.4 762 175C759.6 179.6 759.5 176.6 757.8 180C756.1 183.4 753.7 190.4 751.6 195.6C749.5 200.8 747.6 205.5 745.3 211.2C742.9 216.9 740.1 224.0 737.5 230C734.9 236.0 733.1 240.9 729.7 247.2C726.3 253.4 722.2 260.5 717.2 267.5C712.2 274.5 706.2 281.6 700 289.4C693.8 297.1 685.7 306.6 680 314C674.3 321.4 668.3 330.7 666 334" stroke-width="2.76"/>
<path d="M787 152.5C785.2 154.6 778.5 160.4 776 165C773.5 169.6 774.1 174.4 771.9 180C769.6 185.6 765.4 193.1 762.5 198.8C759.6 204.5 757.3 208.9 754.7 214.4C752.1 219.9 749.8 225.1 746.9 231.6C744.0 238.1 740.9 246.4 737.5 253.4C734.1 260.4 730.8 266.9 726.6 273.8C722.4 280.7 717.8 287.6 712.5 295C707.2 302.4 700.4 311.3 695 318C689.6 324.7 682.5 332.2 680 335" stroke-width="2.18"/>
<path d="M797 140C796.8 142.1 797.5 146.7 795.8 152.5C794.1 158.3 788.9 170.4 787 175C785.1 179.6 786.4 176.0 784.4 180C782.4 184.0 778.6 192.0 775 198.8C771.4 205.6 766.4 213.3 762.5 220.6C758.6 227.9 755.5 234.7 751.6 242.5C747.7 250.3 743.7 258.8 739 267.5C734.3 276.2 729.1 286.2 723.4 295C717.7 303.8 709.7 313.3 705 320C700.3 326.7 696.7 332.5 695 335" stroke-width="2.3"/>
<path d="M785 130C782.5 134.2 774.2 147.5 770 155C765.8 162.5 762.8 169.3 760 175C757.2 180.7 755.2 183.4 753 189.4C750.8 195.4 750.0 202.9 746.9 211.2C743.8 219.5 739.6 229.0 734.4 239.4C729.2 249.8 720.8 264.5 715.6 273.8C710.4 283.1 707.6 288.1 703 295C698.4 301.9 693.2 308.5 688 315C682.8 321.5 674.7 330.8 672 334" stroke-width="1.84"/>
<path d="M765.6 183C764.0 186.7 759.8 196.7 756.2 205C752.6 213.3 748.0 223.6 743.8 233C739.6 242.4 735.9 251.8 731.2 261.2C726.5 270.6 720.8 280.9 715.6 289.4C710.4 297.9 704.9 304.6 700 312C695.1 319.4 688.3 330.3 686 334" stroke-width="1.72"/>
<path d="M759.4 219C757.8 222.9 753.4 234.4 750 242.5C746.6 250.6 742.9 259.7 739 267.5C735.1 275.3 731.1 282.0 726.6 289.4C722.1 296.8 714.4 308.2 712 312" stroke-width="1.72"/>
<path d="M773.4 200.3C771.1 202.4 763.6 209.2 759.4 212.8C755.2 216.5 750.2 220.6 748.4 222.2" stroke-width="2.99"/>
<path d="M764 248.8C766.3 248.3 773.3 246.7 778 245.6C782.7 244.5 789.8 242.0 792.2 242.5C794.6 243.0 793.0 244.6 792.2 248.8C791.4 253.0 789.9 261.8 787.5 267.5C785.1 273.2 781.6 278.6 778 283C774.4 287.4 770.3 291.5 765.6 294C760.9 296.5 754.3 297.0 750 297.8C745.7 298.6 741.7 298.8 740 299" stroke-width="2.07"/>
<path d="M393.1 310.4C393.3 309.8 395.1 309.5 396 309.3C396.9 309.1 398.0 308.9 398.5 309.1C399.0 309.4 399.1 310.1 399.1 310.8C399.1 311.5 399.4 312.9 398.7 313.2C398.0 313.5 395.8 313.3 394.9 312.8C394.0 312.3 392.9 311.0 393.1 310.4Z" stroke-width="2.53"/>
<path d="M394 301.3C393.6 302.0 392.8 302.2 392.1 302.4C391.4 302.6 390.1 303.0 389.6 302.4C389.1 301.8 388.9 300.1 389.2 299C389.5 297.9 390.4 296.0 391.2 295.8C392.0 295.6 393.7 297.1 394.2 298C394.7 298.9 394.4 300.6 394 301.3Z" stroke-width="3.1"/>
<path d="M389.1 312.6C390.2 312.4 391.5 312.6 392 313.2C392.5 313.8 392.4 314.9 392.2 316C392.0 317.1 391.8 319.5 391 319.8C390.2 320.1 388.3 318.8 387.4 317.9C386.4 317.0 385.0 315.1 385.3 314.2C385.6 313.3 388.0 312.8 389.1 312.6Z" stroke-width="2.88"/>
<path d="M382 309.7C381.3 308.3 380.8 305.5 381.2 304.3C381.6 303.1 383.7 302.6 384.6 302.7C385.5 302.8 386.3 303.7 386.8 304.6C387.3 305.5 387.8 306.7 387.6 308.1C387.4 309.5 386.4 312.6 385.5 312.9C384.6 313.2 382.7 311.1 382 309.7Z" stroke-width="3.22"/>
<path d="M380.9 318.8C380.7 318.1 382.0 316.6 382.7 315.7C383.4 314.8 384.3 313.2 384.9 313.4C385.5 313.5 385.9 315.6 386.2 316.6C386.4 317.6 386.8 319.0 386.4 319.6C386.0 320.2 384.7 320.2 383.8 320.1C382.9 320.0 381.1 319.5 380.9 318.8Z" stroke-width="2.76"/>
<path d="M374.1 303.1C374.7 302.5 377.0 304.0 377.9 304.7C378.8 305.4 379.2 306.1 379.5 307.3C379.8 308.5 380.1 311.3 379.5 312C378.9 312.7 376.9 312.0 376 311.4C375.1 310.8 374.6 309.8 374.3 308.4C374.0 307.0 373.5 303.7 374.1 303.1Z" stroke-width="2.64"/>
<path d="M371.7 315C372.1 314.5 373.1 314.2 374.3 314C375.5 313.8 378.3 313.5 379.1 314C379.9 314.5 379.9 316.5 379.1 317.1C378.4 317.7 375.8 317.8 374.6 317.7C373.4 317.6 372.3 317.2 371.8 316.8C371.3 316.4 371.3 315.5 371.7 315Z" stroke-width="3.22"/>
<path d="M379.4 327.2C379.2 327.7 378.7 328.8 377.9 328.9C377.1 329.0 375.6 328.3 374.7 327.9C373.8 327.4 372.2 326.7 372.4 326.2C372.6 325.7 374.6 325.0 375.7 324.9C376.8 324.8 378.2 325.3 378.8 325.7C379.4 326.1 379.5 326.7 379.4 327.2Z" stroke-width="2.64"/>
<path d="M372.1 323.2C372.4 323.9 372.8 324.8 372.6 325.4C372.4 326.0 371.2 327.1 370.7 327.1C370.1 327.1 369.6 325.9 369.3 325.2C369.0 324.5 368.8 323.6 369 323C369.2 322.4 370.2 321.4 370.7 321.4C371.2 321.4 371.8 322.5 372.1 323.2Z" stroke-width="3.1"/>
<path d="M367.1 321C366.4 322.0 365.4 324.3 364.7 324.1C364.0 323.9 363.1 321.4 362.9 319.8C362.7 318.2 363.0 315.2 363.6 314.7C364.2 314.2 365.7 316.1 366.6 316.7C367.5 317.3 368.9 317.6 369 318.3C369.1 319.0 367.8 320.0 367.1 321Z" stroke-width="2.99"/>
<path d="M374.7 328.6C376.5 328.5 379.6 329.3 380.3 330.1C381.0 330.9 379.7 332.6 378.9 333.6C378.1 334.6 377.1 335.8 375.6 336C374.1 336.2 371.1 335.7 370.1 334.8C369.1 333.9 368.9 331.7 369.7 330.7C370.5 329.7 372.9 328.7 374.7 328.6Z" stroke-width="2.88"/>
<path d="M370.7 329C370.1 329.9 367.5 330.8 366 330.8C364.5 330.8 362.4 329.6 361.8 328.8C361.2 328.0 362.0 326.7 362.7 325.8C363.4 324.9 364.7 323.8 365.8 323.7C366.9 323.6 368.7 324.6 369.5 325.5C370.3 326.4 371.3 328.1 370.7 329Z" stroke-width="2.99"/>
<path d="M363.1 322.6C364.1 322.3 366.2 322.2 366.8 322.7C367.4 323.2 366.9 325.0 366.5 325.6C366.1 326.2 365.4 326.4 364.7 326.6C364.0 326.8 363.2 327.1 362.5 326.8C361.8 326.5 360.6 325.3 360.7 324.6C360.8 323.9 362.1 322.9 363.1 322.6Z" stroke-width="2.76"/>
<path d="M370 340.6C368.9 341.1 366.3 340.8 365.3 340C364.3 339.2 363.5 336.9 363.9 335.9C364.3 334.9 366.3 334.2 367.5 333.9C368.7 333.6 370.4 333.5 371.1 334.1C371.8 334.7 371.8 336.2 371.6 337.3C371.4 338.4 371.1 340.2 370 340.6Z" stroke-width="2.64"/>
<path d="M361.1 334.5C360.9 333.6 360.8 332.7 361.2 332.1C361.6 331.5 362.9 330.8 363.6 330.9C364.3 331.0 365.3 332.2 365.5 333C365.7 333.8 365.1 334.7 364.6 335.4C364.1 336.1 362.9 337.4 362.3 337.3C361.7 337.2 361.3 335.4 361.1 334.5Z" stroke-width="3.45"/>
<path d="M355.6 332.2C354.8 332.0 353.9 331.6 353.6 331C353.3 330.4 353.4 329.1 354 328.8C354.6 328.5 356.2 329.0 357.5 329.2C358.8 329.4 361.6 329.7 361.8 330.2C362.0 330.7 359.6 332.0 358.6 332.3C357.6 332.6 356.4 332.4 355.6 332.2Z" stroke-width="2.64"/>
<path d="M361.7 345.1C360.9 345.2 360.1 344.8 359.3 344.3C358.6 343.8 357.2 343.0 357.2 342.2C357.2 341.4 358.5 339.5 359.4 339.3C360.3 339.1 362.0 340.4 362.7 341.1C363.4 341.8 364.0 342.7 363.8 343.4C363.6 344.1 362.4 345.0 361.7 345.1Z" stroke-width="2.88"/>
<path d="M359.7 340.1C359.0 340.6 355.9 340.5 354.3 340.4C352.7 340.3 350.8 340.3 350 339.7C349.2 339.1 348.7 337.6 349.5 336.8C350.3 336.0 353.1 334.6 354.6 334.7C356.1 334.8 357.6 336.3 358.5 337.2C359.4 338.1 360.4 339.6 359.7 340.1Z" stroke-width="3.1"/>
<path d="M366.7 344.3C367.7 344.7 367.7 346.2 367.9 347.3C368.1 348.4 368.8 350.1 367.9 350.8C366.9 351.5 363.7 351.8 362.2 351.3C360.7 350.8 358.8 348.9 358.8 347.9C358.8 346.8 360.8 345.6 362.1 345C363.4 344.4 365.7 343.9 366.7 344.3Z" stroke-width="3.22"/>
<path d="M358.2 343C359.3 343.0 361.7 342.8 362 343.3C362.3 343.8 360.6 345.1 359.8 346C359.0 346.9 358.1 348.6 357.4 348.5C356.7 348.4 355.8 346.6 355.5 345.7C355.2 344.8 354.9 343.8 355.4 343.3C355.8 342.9 357.1 343.0 358.2 343Z" stroke-width="3.22"/>
<path d="M348.9 347C349.0 346.2 349.2 345.4 350.2 345C351.2 344.6 353.9 344.0 355 344.3C356.1 344.6 356.8 345.9 356.9 346.8C357.0 347.7 357.1 349.2 355.9 349.7C354.7 350.2 350.9 350.1 349.7 349.7C348.5 349.2 348.8 347.8 348.9 347Z" stroke-width="2.99"/>
<path d="M364.6 355.7C365.5 356.1 366.5 357.0 366.3 357.5C366.1 358.0 364.6 358.4 363.5 358.7C362.4 358.9 360.8 359.3 360 359C359.2 358.7 358.5 357.7 358.6 357.1C358.7 356.5 359.7 355.5 360.7 355.3C361.7 355.1 363.7 355.3 364.6 355.7Z" stroke-width="2.53"/>
<path d="M359.4 354.8C359.1 355.7 357.9 357.7 356.6 357.9C355.3 358.1 352.4 357.0 351.8 356.1C351.2 355.2 352.5 353.6 353.1 352.7C353.7 351.8 354.8 350.7 355.6 350.6C356.5 350.6 357.6 351.7 358.2 352.4C358.8 353.1 359.7 353.9 359.4 354.8Z" stroke-width="2.88"/>
<path d="M351.2 353C350.3 353.5 349.0 354.0 348 353.9C347.0 353.8 345.8 353.0 345.3 352.2C344.8 351.4 344.4 349.6 345.2 349.1C346.0 348.6 348.9 348.8 350.3 349.1C351.7 349.4 353.2 350.4 353.3 351C353.4 351.6 352.1 352.5 351.2 353Z" stroke-width="3.1"/>
<path d="M357.1 360.4C356.7 359.5 356.7 357.9 357.2 357.3C357.7 356.7 359.3 356.8 360.2 357C361.1 357.2 361.9 357.6 362.3 358.3C362.7 359.0 363.3 360.6 362.8 361.4C362.3 362.1 360.4 363.0 359.5 362.8C358.6 362.6 357.5 361.3 357.1 360.4Z" stroke-width="2.99"/>
<path d="M354.1 367.1C353.3 366.7 353.5 364.1 353.3 362.6C353.1 361.1 352.2 358.7 353 357.9C353.8 357.1 357.2 357.0 358.2 357.7C359.2 358.4 358.9 360.8 358.9 362C358.9 363.2 358.8 363.9 358 364.8C357.2 365.7 354.9 367.5 354.1 367.1Z" stroke-width="3.22"/>
<path d="M350.3 356.4C351.0 355.9 352.1 355.1 352.8 355.6C353.5 356.1 354.5 358.2 354.4 359.6C354.3 361.0 353.1 363.5 352.4 363.8C351.7 364.1 350.7 362.1 350.1 361.2C349.5 360.3 348.6 359.4 348.6 358.6C348.6 357.8 349.6 356.9 350.3 356.4Z" stroke-width="3.22"/>
<path d="M357.1 364.6C357.4 363.7 357.9 363.1 358.6 362.8C359.3 362.5 360.4 362.6 361.4 363C362.4 363.4 364.4 364.2 364.5 365.1C364.6 366.0 363.3 367.9 362 368.4C360.7 368.9 357.7 368.6 356.9 368C356.1 367.4 356.8 365.5 357.1 364.6Z" stroke-width="2.64"/>
<path d="M346.8 364.2C347.2 363.1 348.8 361.8 349.5 362C350.2 362.2 350.5 364.5 350.8 365.7C351.1 366.9 351.4 368.1 351.1 369C350.8 369.9 349.5 371.5 348.8 371.4C348.1 371.3 347.3 369.5 347 368.3C346.7 367.1 346.4 365.2 346.8 364.2Z" stroke-width="2.76"/>
<path d="M356.2 373.6C357.2 372.8 358.9 372.6 360.3 372.9C361.7 373.2 364.1 374.1 364.5 375.2C364.9 376.3 363.5 379.0 362.5 379.7C361.5 380.4 359.7 379.6 358.3 379.2C356.9 378.8 354.5 378.4 354.1 377.5C353.8 376.6 355.2 374.4 356.2 373.6Z" stroke-width="3.22"/>
<path d="M353.3 372.2C354.1 372.3 354.8 374.3 355.2 375.3C355.6 376.3 356.0 377.3 355.6 378C355.2 378.7 353.4 379.8 352.6 379.6C351.8 379.5 351.2 378.0 350.8 377.1C350.4 376.2 349.8 375.3 350.2 374.5C350.6 373.7 352.5 372.1 353.3 372.2Z" stroke-width="3.1"/>
<path d="M345.1 373.3C345.2 372.5 347.5 371.2 348.7 370.9C349.9 370.6 351.6 370.8 352.5 371.5C353.4 372.2 354.1 373.8 353.9 375C353.7 376.2 352.2 378.4 351.3 378.5C350.4 378.6 349.4 376.6 348.4 375.7C347.4 374.8 345.1 374.1 345.1 373.3Z" stroke-width="3.1"/>
<path d="M360.9 382C359.8 382.0 358.7 381.6 358 381C357.3 380.4 356.4 379.2 356.9 378.7C357.4 378.2 359.6 378.1 361 378.1C362.4 378.1 364.6 378.2 365.1 378.7C365.7 379.2 365.0 380.6 364.3 381.1C363.6 381.7 361.9 382.0 360.9 382Z" stroke-width="3.22"/>
<path d="M343.3 380.1C343.2 379.4 342.5 377.8 343.1 377.5C343.7 377.2 345.8 377.8 346.7 378.2C347.6 378.6 348.4 379.3 348.5 380C348.6 380.7 347.9 381.9 347.1 382.2C346.4 382.5 344.6 382.2 344 381.9C343.4 381.5 343.4 380.8 343.3 380.1Z" stroke-width="2.76"/>
<path d="M362.6 386.7C362.3 387.7 361.2 388.2 360.3 388.5C359.4 388.8 357.9 389.2 357.3 388.6C356.7 388.0 356.5 385.5 356.8 384.7C357.1 383.9 358.4 384.1 359.3 383.8C360.2 383.5 361.6 382.2 362.2 382.7C362.8 383.2 362.9 385.7 362.6 386.7Z" stroke-width="3.45"/>
<path d="M346.7 382.8C348.0 382.5 350.8 383.8 351.7 384.8C352.6 385.9 352.6 388.2 352 389.1C351.4 390.0 349.5 390.0 348.2 390.2C346.9 390.4 344.8 390.9 344.1 390.3C343.4 389.7 343.4 387.9 343.8 386.6C344.2 385.4 345.4 383.1 346.7 382.8Z" stroke-width="2.76"/>
<path d="M351.4 395.5C350.6 394.9 349.5 393.1 350.1 392.3C350.8 391.5 353.7 390.5 355.3 390.6C356.9 390.7 359.2 391.9 359.6 392.7C360.1 393.5 358.8 394.6 358 395.2C357.2 395.8 356.2 395.9 355.1 396C354.0 396.1 352.2 396.1 351.4 395.5Z" stroke-width="3.33"/>
<path d="M344.7 395.2C345.3 394.8 346.5 394.5 347.8 394.6C349.1 394.7 352.0 395.1 352.5 395.9C353.0 396.7 351.8 398.6 350.6 399.3C349.4 400.0 346.3 400.4 345.2 400C344.1 399.6 344.3 397.8 344.2 397C344.1 396.2 344.1 395.6 344.7 395.2Z" stroke-width="2.53"/>
<path d="M360.5 397.7C361.3 397.4 362.6 397.8 363.3 398.2C364.0 398.6 364.8 399.5 364.7 400C364.6 400.5 363.6 401.1 362.9 401.4C362.2 401.6 361.2 401.8 360.5 401.5C359.8 401.2 358.5 400.3 358.5 399.7C358.5 399.1 359.7 397.9 360.5 397.7Z" stroke-width="3.33"/>
<path d="M349.3 399.2C350.4 399.6 352.0 400.7 352.1 401.5C352.2 402.3 350.5 403.4 349.7 403.9C348.9 404.4 347.9 404.9 347.1 404.7C346.3 404.5 345.0 403.4 344.8 402.5C344.6 401.6 345.1 399.8 345.8 399.2C346.6 398.6 348.2 398.8 349.3 399.2Z" stroke-width="2.88"/>
<path d="M362.9 403.4C363.5 403.2 365.0 404.7 365.6 405.4C366.2 406.1 366.8 406.6 366.8 407.4C366.8 408.2 366.4 410.2 365.8 410.4C365.2 410.6 363.9 409.4 363.2 408.8C362.5 408.2 361.9 407.7 361.8 406.8C361.8 405.9 362.3 403.6 362.9 403.4Z" stroke-width="3.22"/>
<path d="M354.4 406.4C355.3 406.1 357.4 406.5 358.2 407.1C359.0 407.7 359.5 409.4 359.2 410.1C358.9 410.8 357.2 411.2 356.1 411.4C355.0 411.6 353.3 411.7 352.8 411.3C352.3 410.9 352.7 409.6 353 408.8C353.3 408.0 353.5 406.7 354.4 406.4Z" stroke-width="2.88"/>
<path d="M347.4 410.8C346.8 410.1 346.0 409.1 346.2 408.3C346.4 407.5 347.8 406.0 348.7 405.9C349.6 405.8 351.0 406.8 351.7 407.6C352.4 408.4 353.1 410.1 352.8 410.9C352.5 411.7 350.6 412.5 349.7 412.5C348.8 412.5 348.0 411.5 347.4 410.8Z" stroke-width="2.64"/>
<path d="M366.2 414.6C366.4 415.1 364.1 416.1 363.1 416.7C362.1 417.3 361.3 418.2 360.2 418.1C359.1 418.0 356.8 416.8 356.7 416.1C356.6 415.4 358.7 414.4 359.6 414C360.5 413.6 361.1 413.5 362.2 413.6C363.3 413.7 366.0 414.1 366.2 414.6Z" stroke-width="3.22"/>
<path d="M359.2 419.4C358.0 419.5 355.9 419.5 355.3 419C354.7 418.5 355.1 417.1 355.5 416.5C355.9 415.9 356.9 415.5 358 415.3C359.1 415.1 361.5 414.7 362.2 415.2C362.9 415.7 362.8 417.4 362.3 418.1C361.8 418.8 360.4 419.2 359.2 419.4Z" stroke-width="2.99"/>
<path d="M354.4 415.7C355.7 416.3 357.0 417.9 356.8 418.9C356.6 419.9 354.9 421.5 353.4 421.8C351.9 422.1 349.1 421.4 348 420.8C346.9 420.2 346.3 419.0 346.5 418.1C346.7 417.2 347.7 415.9 349 415.5C350.3 415.1 353.1 415.1 354.4 415.7Z" stroke-width="3.22"/>
<path d="M364.8 424.5C363.9 424.8 361.9 425.4 361.5 425C361.1 424.6 362.1 422.9 362.4 422.1C362.7 421.4 363.0 420.6 363.5 420.5C364.0 420.4 364.9 420.9 365.5 421.3C366.1 421.8 367.3 422.7 367.2 423.2C367.1 423.7 365.8 424.2 364.8 424.5Z" stroke-width="3.22"/>
<path d="M360.4 424.1C359.8 424.5 358.6 425.1 358 424.7C357.4 424.3 357.0 422.6 357.1 421.8C357.2 421.1 358.3 420.4 358.9 420.2C359.5 420.0 360.2 420.1 360.7 420.5C361.1 420.9 361.7 421.8 361.6 422.4C361.6 423.0 361.0 423.7 360.4 424.1Z" stroke-width="2.64"/>
<path d="M356.5 421.3C357.3 422.6 358.3 424.9 357.7 425.8C357.1 426.8 354.3 427.2 353.1 427C351.9 426.8 350.9 425.6 350.5 424.8C350.1 424.0 350.5 423.2 350.9 422.1C351.3 421.0 352.1 418.2 353 418.1C353.9 418.0 355.7 420.0 356.5 421.3Z" stroke-width="3.22"/>
<path d="M368.8 430.2C368.9 430.9 368.6 432.5 367.8 432.9C367.0 433.3 365.0 433.1 364.2 432.6C363.4 432.1 362.7 430.6 362.9 429.9C363.1 429.2 364.4 428.6 365.2 428.4C365.9 428.2 366.8 428.2 367.4 428.5C368.0 428.8 368.7 429.5 368.8 430.2Z" stroke-width="2.88"/>
<path d="M360.8 431.9C359.9 432.4 358.3 433.8 357.2 433.6C356.1 433.5 354.2 431.9 354.1 431C354.0 430.1 355.2 428.3 356.3 428C357.4 427.7 359.3 428.7 360.4 429.1C361.4 429.5 362.5 429.9 362.6 430.4C362.7 430.9 361.7 431.4 360.8 431.9Z" stroke-width="3.22"/>
<path d="M367.1 435.7C366.2 435.1 364.1 433.6 364.6 433.1C365.1 432.6 368.4 432.6 370 432.7C371.6 432.8 373.8 432.8 374.5 433.4C375.2 434.0 375.1 435.6 374.4 436.2C373.6 436.8 371.2 436.8 370 436.7C368.8 436.6 368.0 436.3 367.1 435.7Z" stroke-width="3.33"/>
<path d="M360.4 434.1C360.9 433.7 362.1 433.7 362.8 434.3C363.5 434.9 364.8 436.5 364.8 437.6C364.8 438.7 363.5 440.6 362.6 441C361.7 441.4 360.1 440.8 359.6 440.1C359.1 439.4 359.6 437.7 359.7 436.7C359.8 435.7 359.9 434.5 360.4 434.1Z" stroke-width="2.88"/>
<path d="M357.9 441.1C356.8 441.3 355.2 441.2 354.3 440.6C353.4 440.1 352.4 438.6 352.7 437.8C353.0 437.0 354.9 436.2 356 436C357.1 435.8 358.8 436.1 359.6 436.6C360.4 437.2 361.1 438.6 360.8 439.3C360.5 440.1 359.0 440.9 357.9 441.1Z" stroke-width="3.1"/>
<path d="M370.4 443.9C369.6 443.6 368.6 442.8 368.6 442.3C368.6 441.8 369.3 441.2 370.3 440.7C371.3 440.2 373.3 439.2 374.5 439.5C375.7 439.8 377.4 441.4 377.3 442.2C377.2 442.9 374.8 443.7 373.6 444C372.5 444.3 371.2 444.2 370.4 443.9Z" stroke-width="2.88"/>
<path d="M366.1 441.7C365.6 442.3 364.0 442.9 362.8 443C361.6 443.1 359.5 442.8 358.7 442.2C357.9 441.6 357.5 440.2 358.1 439.5C358.7 438.8 360.9 437.9 362.2 437.9C363.5 437.9 365.0 439.0 365.7 439.6C366.4 440.2 366.6 441.1 366.1 441.7Z" stroke-width="2.88"/>
<path d="M357.7 445C358.2 444.1 359.2 443.5 360 443.6C360.8 443.7 362.3 444.7 362.5 445.6C362.7 446.5 361.7 448.2 361.1 449.1C360.6 450.0 359.9 451.1 359.2 451.1C358.5 451.1 357.2 449.9 357 448.9C356.8 447.9 357.2 445.9 357.7 445Z" stroke-width="3.22"/>
<path d="M368.9 448.9C368.8 447.9 369.5 445.4 370.2 444.9C370.9 444.4 372.5 445.3 373.3 446C374.1 446.7 375.0 447.8 375.1 448.9C375.2 450.0 374.4 452.2 373.7 452.6C373.0 453.0 371.8 451.7 371 451.1C370.2 450.5 369.0 449.9 368.9 448.9Z" stroke-width="3.45"/>
<path d="M368.7 449.1C368.9 449.8 368.3 450.5 367.8 451.4C367.3 452.3 366.4 454.3 365.8 454.3C365.2 454.3 364.7 452.2 364.2 451.2C363.7 450.2 362.5 448.8 362.9 448.2C363.2 447.6 365.3 447.1 366.3 447.3C367.3 447.5 368.4 448.4 368.7 449.1Z" stroke-width="2.99"/>
<path d="M364.9 449.9C365.5 450.3 365.4 452.0 365.4 452.9C365.4 453.8 365.4 454.9 364.8 455.4C364.2 455.9 362.4 456.4 361.9 456C361.3 455.6 361.5 454.0 361.5 453.1C361.5 452.2 361.3 451.2 361.9 450.7C362.5 450.2 364.3 449.5 364.9 449.9Z" stroke-width="2.64"/>
<path d="M365.7 459.4C365.2 458.8 366.6 457.0 367.1 456.2C367.6 455.4 367.9 454.8 368.8 454.5C369.7 454.2 371.9 454.2 372.5 454.7C373.1 455.2 372.7 456.7 372.3 457.5C371.9 458.3 371.4 459.2 370.3 459.5C369.2 459.8 366.2 459.9 365.7 459.4Z" stroke-width="3.1"/>
<path d="M361.1 455.2C361.7 454.8 363.2 455.4 363.8 456C364.4 456.6 364.8 457.8 364.7 458.6C364.6 459.4 364.1 460.4 363.5 460.8C362.9 461.2 361.9 461.6 361.3 461.2C360.7 460.8 360.1 459.5 360.1 458.5C360.1 457.5 360.5 455.6 361.1 455.2Z" stroke-width="3.22"/>
<path d="M376 460.3C376.3 459.8 378.2 459.0 379.4 458.9C380.6 458.8 382.1 459.3 383 459.9C383.9 460.5 385.3 461.8 384.9 462.4C384.4 462.9 381.5 463.2 380.3 463.2C379.1 463.1 378.4 462.6 377.7 462.1C377.0 461.6 375.7 460.8 376 460.3Z" stroke-width="3.22"/>
<path d="M373.7 464.4C373.3 464.8 371.8 465.1 371.2 464.9C370.6 464.7 370.4 463.9 370.1 463.2C369.8 462.5 369.2 461.3 369.6 460.9C370.0 460.4 371.8 460.3 372.5 460.5C373.2 460.7 373.6 461.7 373.8 462.3C374.0 462.9 374.1 464.0 373.7 464.4Z" stroke-width="2.76"/>
<path d="M362.4 467.9C361.6 467.0 360.2 465.6 360.8 464.9C361.4 464.2 364.1 463.7 365.9 463.7C367.7 463.7 371.0 464.2 371.4 464.9C371.8 465.6 369.5 466.9 368.5 467.8C367.5 468.7 366.6 470.4 365.6 470.4C364.6 470.4 363.2 468.8 362.4 467.9Z" stroke-width="2.64"/>
<path d="M379.5 465.1C380.0 465.6 380.1 466.4 379.8 466.9C379.5 467.4 378.4 468.3 377.7 468.3C377.0 468.3 376.0 467.4 375.6 467C375.2 466.6 375.1 466.4 375.3 465.8C375.5 465.2 375.9 463.8 376.6 463.7C377.3 463.6 379.0 464.6 379.5 465.1Z" stroke-width="2.76"/>
<path d="M378 464.9C378.6 466.1 377.8 468.4 377.3 469.6C376.8 470.8 375.7 472.1 374.9 472.2C374.1 472.3 373.1 471.0 372.3 470C371.5 469.0 369.9 467.3 370.1 466C370.4 464.7 372.5 462.5 373.8 462.3C375.1 462.1 377.4 463.7 378 464.9Z" stroke-width="2.76"/>
<path d="M373.2 469.5C373.6 469.9 372.5 470.9 372 471.6C371.5 472.3 371.1 473.3 370 473.5C368.9 473.7 366.0 473.3 365.4 472.7C364.8 472.1 365.5 470.6 366.2 470.1C366.9 469.6 368.1 469.6 369.3 469.5C370.5 469.4 372.8 469.1 373.2 469.5Z" stroke-width="2.76"/>
<path d="M376.8 476.3C375.8 475.6 375.8 473.5 376.3 472.6C376.8 471.7 378.7 471.3 379.9 471.1C381.1 470.9 382.3 471.1 383.4 471.6C384.5 472.2 386.7 473.5 386.5 474.4C386.3 475.2 383.8 476.4 382.2 476.7C380.6 477.0 377.8 477.0 376.8 476.3Z" stroke-width="2.76"/>
<path d="M377.7 474.4C378.0 473.7 379.1 472.3 379.6 472.4C380.1 472.5 380.6 474.2 380.8 474.9C381.0 475.6 381.2 476.2 380.9 476.8C380.6 477.4 379.6 478.7 379 478.6C378.4 478.5 377.8 477.1 377.6 476.4C377.4 475.7 377.4 475.1 377.7 474.4Z" stroke-width="2.76"/>
<path d="M370 478.2C369.2 477.6 369.8 476.6 370.2 475.8C370.6 475.1 371.4 473.9 372.6 473.7C373.9 473.5 376.9 473.9 377.7 474.5C378.5 475.1 378.2 476.4 377.7 477.2C377.2 478.0 376.0 479.2 374.7 479.4C373.4 479.6 370.8 478.8 370 478.2Z" stroke-width="3.22"/>
<path d="M387.4 478.2C388.1 478.5 388.5 479.8 388.7 480.6C388.9 481.4 389.0 482.5 388.6 483.2C388.2 483.9 387.1 485.0 386.3 484.9C385.6 484.8 384.4 483.6 384.1 482.6C383.8 481.6 384.1 479.7 384.6 479C385.2 478.3 386.7 477.9 387.4 478.2Z" stroke-width="2.76"/>
<path d="M377.5 480C378.1 479.4 379.5 479.0 380.4 479C381.3 479.0 382.3 479.5 383 480C383.7 480.5 385.2 481.5 384.8 482.1C384.4 482.7 382.2 483.4 380.9 483.4C379.6 483.4 377.5 482.9 376.9 482.3C376.3 481.7 376.9 480.6 377.5 480Z" stroke-width="2.76"/>
<path d="M377.2 487C376.6 487.4 376.0 488.0 375.3 487.8C374.6 487.6 373.3 486.6 373.2 485.9C373.1 485.1 373.9 483.7 374.5 483.3C375.1 482.9 376.2 483.1 377 483.4C377.8 483.7 379.1 484.6 379.1 485.2C379.1 485.8 377.8 486.6 377.2 487Z" stroke-width="2.64"/>
<path d="M388.7 489.3C388.1 490.2 387.1 490.6 385.9 490.9C384.7 491.2 381.8 491.7 381.4 491.1C381.0 490.5 382.7 488.4 383.3 487.3C383.9 486.2 384.0 485.0 385 484.7C386.0 484.4 388.6 484.8 389.2 485.6C389.8 486.4 389.2 488.4 388.7 489.3Z" stroke-width="3.45"/>
<path d="M377 492.6C376.7 492.0 377.0 490.9 377.3 490.4C377.6 489.9 377.9 489.7 378.6 489.4C379.3 489.1 381.2 488.2 381.7 488.7C382.2 489.2 382.2 491.3 381.8 492.2C381.4 493.1 380.1 494.1 379.3 494.2C378.5 494.3 377.3 493.2 377 492.6Z" stroke-width="2.76"/>
<path d="M390.5 493.4C390.6 494.1 390.9 494.9 390.3 495.4C389.7 495.9 387.6 496.5 386.9 496.2C386.2 495.9 386.2 494.5 386.2 493.8C386.1 493.1 386.0 492.3 386.6 491.8C387.2 491.3 389.2 490.6 389.9 490.9C390.5 491.2 390.4 492.6 390.5 493.4Z" stroke-width="3.33"/>
<path d="M381.7 500.6C380.6 500.9 378.8 501.1 378.3 500.5C377.8 499.9 378.2 498.1 378.6 497.2C379.0 496.3 379.7 495.5 380.5 495.3C381.3 495.1 382.5 495.5 383.2 496.1C383.9 496.7 384.9 498.2 384.6 499C384.4 499.8 382.8 500.4 381.7 500.6Z" stroke-width="2.76"/>
<path d="M392.2 496.1C392.9 496.0 393.6 496.5 394 496.8C394.4 497.1 394.9 497.7 394.9 498.2C394.9 498.7 394.4 499.6 393.8 499.8C393.2 500.1 392.2 500.1 391.5 499.7C390.8 499.3 389.5 498.0 389.6 497.4C389.7 496.8 391.5 496.2 392.2 496.1Z" stroke-width="3.22"/>
<path d="M388.7 501.1C389.1 502.3 389.3 504.2 389 505C388.7 505.8 387.7 505.9 386.8 506.1C385.9 506.3 383.9 507.2 383.5 506.4C383.1 505.6 383.9 502.9 384.4 501.5C384.9 500.1 385.7 498.0 386.4 497.9C387.1 497.8 388.3 499.9 388.7 501.1Z" stroke-width="2.99"/>
<path d="M387.3 507.9C386.8 507.3 385.7 506.0 386.1 505.5C386.5 505.0 388.4 505.0 389.5 505C390.6 505.0 392.3 505.1 392.8 505.7C393.3 506.3 393.1 508.2 392.5 508.7C391.9 509.2 390.1 509.0 389.2 508.9C388.3 508.8 387.8 508.5 387.3 507.9Z" stroke-width="2.76"/>
<path d="M399.7 510.5C399.2 509.8 399.1 509.5 399 508.7C398.9 507.9 398.8 506.2 399.3 505.8C399.8 505.4 401.4 505.6 402.2 506.2C403.0 506.8 403.9 508.0 403.9 509.1C403.9 510.2 402.9 512.5 402.2 512.7C401.5 512.9 400.2 511.2 399.7 510.5Z" stroke-width="2.76"/>
<path d="M395.4 518.7C394.2 518.8 392.4 519.0 391.7 518.4C391.0 517.8 390.9 516.0 391.4 515.4C391.9 514.8 393.7 514.6 394.9 514.5C396.1 514.4 397.8 514.4 398.4 514.9C399.0 515.4 399.2 517.1 398.7 517.7C398.2 518.3 396.6 518.6 395.4 518.7Z" stroke-width="2.99"/>
<path d="M409.1 512.1C408.6 512.7 407.5 512.7 406.7 512.7C405.9 512.7 404.6 512.6 404.2 512C403.8 511.4 403.7 509.6 404.2 508.9C404.7 508.2 406.1 507.8 407 507.8C407.9 507.9 409.4 508.5 409.8 509.2C410.2 509.9 409.6 511.5 409.1 512.1Z" stroke-width="2.53"/>
<path d="M398 517.5C397.9 516.8 398.7 515.9 399.3 515.4C399.9 514.9 400.7 514.1 401.6 514.2C402.5 514.3 404.7 515.2 404.9 516.1C405.1 517.0 403.8 519.0 402.9 519.6C402.0 520.2 400.6 520.0 399.8 519.6C399.0 519.2 398.1 518.2 398 517.5Z" stroke-width="3.1"/>
<path d="M415 511.6C416.4 511.9 417.9 513.2 418.3 514.1C418.8 515.0 418.4 516.5 417.7 517.1C417.0 517.7 415.3 518.0 413.9 517.9C412.4 517.8 409.7 517.7 409 516.8C408.3 515.9 408.6 513.5 409.6 512.6C410.6 511.7 413.6 511.4 415 511.6Z" stroke-width="2.88"/>
<path d="M409.6 523.1C408.8 523.9 406.9 525.3 406.2 524.9C405.4 524.5 405.0 521.8 405.1 520.7C405.2 519.6 405.9 519.0 406.6 518.3C407.3 517.6 408.6 516.0 409.4 516.3C410.2 516.6 411.2 518.9 411.2 520C411.2 521.1 410.4 522.3 409.6 523.1Z" stroke-width="2.76"/>
<path d="M416 524.7C415.0 523.9 415.2 521.7 415.2 520.3C415.2 518.9 415.2 517.0 416.2 516.3C417.1 515.6 419.7 515.6 420.9 516.3C422.1 517.0 423.1 518.9 423.2 520.3C423.3 521.7 422.5 524.2 421.3 524.9C420.1 525.6 417.0 525.5 416 524.7Z" stroke-width="3.33"/>
<path d="M411.9 525C412.0 524.2 412.9 522.8 413.6 522.6C414.3 522.4 415.5 523.0 416.2 523.6C416.9 524.2 418.1 525.7 417.9 526.5C417.7 527.3 416.0 528.0 415.2 528.2C414.4 528.4 413.6 528.0 413 527.5C412.4 527.0 411.8 525.8 411.9 525Z" stroke-width="2.64"/>
<path d="M424.3 522.2C425.0 522.6 425.6 523.0 425.5 523.5C425.4 524.0 424.8 524.9 423.9 525.1C423.0 525.4 420.6 525.4 419.9 525C419.2 524.6 419.3 523.5 419.6 522.8C419.9 522.1 420.7 521.0 421.5 520.9C422.3 520.8 423.6 521.8 424.3 522.2Z" stroke-width="2.76"/>
<path d="M417.8 531.7C417.1 530.9 416.7 529.3 417.4 528.5C418.1 527.7 420.8 526.8 421.9 526.9C423.0 527.0 423.7 528.5 424.2 529.3C424.7 530.1 425.3 530.8 424.9 531.5C424.5 532.2 422.8 533.3 421.6 533.3C420.4 533.3 418.5 532.5 417.8 531.7Z" stroke-width="2.76"/>
<path d="M429.8 525.4C429.0 524.7 427.8 523.0 428.4 522.1C429.0 521.2 432.0 519.8 433.2 520C434.4 520.2 434.7 522.2 435.4 523.2C436.1 524.2 437.7 525.4 437.3 525.9C436.9 526.4 434.4 526.3 433.1 526.2C431.9 526.1 430.6 526.1 429.8 525.4Z" stroke-width="2.53"/>
<path d="M424.5 531.7C424.3 530.6 424.1 528.9 424.9 528.2C425.7 527.5 428.2 527.2 429.1 527.7C430.0 528.2 430.1 530.1 430.1 531.1C430.1 532.1 429.9 533.1 429.2 533.7C428.5 534.3 426.7 534.9 425.9 534.6C425.1 534.3 424.7 532.8 424.5 531.7Z" stroke-width="3.22"/>
<path d="M440.2 528.3C439.5 528.8 438.2 529.4 437.4 529.3C436.6 529.2 435.9 528.3 435.6 527.8C435.3 527.3 435.1 526.6 435.5 526.3C435.9 526.0 437.3 526.0 438.3 526.1C439.3 526.2 441.2 526.2 441.5 526.6C441.8 527.0 440.9 527.8 440.2 528.3Z" stroke-width="2.64"/>
<path d="M436.1 533.9C435.8 534.2 434.6 534.5 433.8 534.5C433.0 534.5 432.1 534.4 431.5 534.1C430.9 533.8 430.3 533.2 430.5 532.6C430.7 532.0 432.1 530.7 432.9 530.7C433.7 530.7 435.0 532.0 435.5 532.5C436.0 533.0 436.4 533.6 436.1 533.9Z" stroke-width="3.33"/>
<path d="M440.9 524.8C441.7 523.9 443.9 523.4 445.2 523.7C446.5 524.0 448.4 525.6 448.6 526.8C448.8 527.9 447.4 529.6 446.5 530.6C445.6 531.6 444.1 532.8 443.1 532.6C442.1 532.4 440.8 530.6 440.4 529.3C440.0 528.0 440.1 525.7 440.9 524.8Z" stroke-width="2.64"/>
<path d="M452.5 531.8C452.3 532.7 450.2 532.9 449.3 533.4C448.4 533.9 447.6 534.9 446.8 534.5C446.0 534.1 444.7 532.3 444.7 531.2C444.7 530.1 445.9 528.2 446.8 527.7C447.8 527.2 449.4 527.4 450.4 528.1C451.3 528.8 452.7 530.9 452.5 531.8Z" stroke-width="2.88"/>
<path d="M448.7 535.9C449.3 535.8 450.4 537.8 451.1 538.6C451.8 539.4 452.9 540.2 452.8 540.8C452.7 541.4 451.3 542.2 450.5 542.4C449.7 542.6 448.5 542.6 448 542.1C447.5 541.6 447.2 540.3 447.3 539.3C447.4 538.3 448.1 536.0 448.7 535.9Z" stroke-width="3.1"/>
<path d="M459.3 535.2C459.0 535.7 457.3 535.6 456.3 535.5C455.3 535.4 453.7 535.5 453.3 534.8C452.9 534.1 453.3 532.3 453.9 531.5C454.5 530.7 455.9 529.8 456.7 529.9C457.4 530.0 458.0 531.4 458.4 532.3C458.8 533.2 459.6 534.7 459.3 535.2Z" stroke-width="2.64"/>
<path d="M449.5 540.7C449.9 539.9 450.0 538.6 450.9 538.4C451.8 538.2 453.8 539.2 454.8 539.7C455.8 540.2 457.4 541.1 457.1 541.6C456.8 542.1 454.6 542.2 453.2 542.5C451.8 542.8 449.2 543.5 448.6 543.2C448.0 542.9 449.1 541.5 449.5 540.7Z" stroke-width="2.88"/>
<path d="M466.3 532.8C466.6 533.7 466.8 534.8 466.2 535.7C465.6 536.6 463.8 538.6 463 538.4C462.2 538.2 461.9 535.7 461.6 534.5C461.3 533.3 460.5 531.8 461 531.1C461.5 530.4 463.6 530.2 464.5 530.5C465.4 530.8 466.0 531.9 466.3 532.8Z" stroke-width="3.1"/>
<path d="M467.5 546.1C466.8 546.6 464.3 546.7 462.9 546.5C461.5 546.3 459.5 545.8 459.1 545.1C458.7 544.5 459.8 543.1 460.7 542.6C461.6 542.1 463.5 541.8 464.5 541.9C465.5 542.0 466.4 542.8 466.9 543.5C467.4 544.2 468.2 545.6 467.5 546.1Z" stroke-width="3.1"/>
<path d="M471.6 535.6C472.1 537.0 472.9 539.2 472.4 540.2C471.9 541.2 469.6 541.9 468.7 541.6C467.8 541.3 467.1 539.7 466.7 538.5C466.3 537.3 465.7 535.7 466.1 534.6C466.6 533.5 468.5 531.7 469.4 531.9C470.3 532.1 471.1 534.2 471.6 535.6Z" stroke-width="2.88"/>
<path d="M475 542.1C475.5 542.9 474.4 544.2 473.4 545C472.4 545.8 470.1 547.2 469.1 547.1C468.1 547.0 467.8 545.1 467.2 544.1C466.6 543.1 464.8 541.9 465.3 541.3C465.9 540.7 468.9 540.2 470.5 540.3C472.1 540.4 474.5 541.3 475 542.1Z" stroke-width="2.76"/>
<path d="M482.4 539.1C481.8 539.9 479.5 540.5 478.4 540.4C477.3 540.3 476.4 539.5 475.6 538.7C474.8 537.9 473.4 536.6 473.8 535.7C474.2 534.8 476.4 533.5 477.8 533.5C479.2 533.5 481.3 534.5 482.1 535.4C482.9 536.3 483.0 538.3 482.4 539.1Z" stroke-width="2.99"/>
<path d="M475.3 544.7C476.0 545.2 476.4 545.7 476.3 546.2C476.2 546.7 475.6 547.5 474.6 547.8C473.6 548.1 471.2 548.4 470.3 548C469.4 547.6 469.1 546.2 469.4 545.4C469.7 544.6 470.9 543.1 471.9 543C472.9 542.9 474.6 544.2 475.3 544.7Z" stroke-width="2.64"/>
<path d="M483 540.7C482.7 539.5 482.8 538.0 483.2 537C483.6 536.0 484.8 534.3 485.5 534.4C486.2 534.5 486.9 536.4 487.3 537.6C487.7 538.8 488.1 540.7 487.7 541.8C487.3 542.9 485.7 544.2 484.9 544C484.1 543.8 483.3 541.9 483 540.7Z" stroke-width="2.64"/>
<path d="M478.1 551C477.3 550.4 477.0 547.6 477.2 546.3C477.4 544.9 478.5 543.2 479.4 542.9C480.3 542.6 481.8 543.6 482.5 544.4C483.2 545.2 483.5 546.5 483.4 547.5C483.3 548.5 482.7 549.6 481.8 550.2C480.9 550.8 478.9 551.6 478.1 551Z" stroke-width="2.64"/>
<path d="M488.6 541.7C487.3 541.0 485.6 540.1 485.7 539.4C485.8 538.7 487.7 537.8 489.1 537.3C490.5 536.8 493.4 535.8 494.3 536.2C495.2 536.6 494.9 538.7 494.7 539.9C494.5 541.1 494.4 543.1 493.4 543.4C492.4 543.7 489.9 542.4 488.6 541.7Z" stroke-width="3.1"/>
<path d="M488 550.8C487.5 550.1 486.8 548.3 487.1 547.7C487.4 547.1 489.1 547.3 490 547.4C490.9 547.5 492.0 547.5 492.4 548.1C492.8 548.7 492.8 550.5 492.4 551.1C492.0 551.7 490.7 551.7 490 551.6C489.3 551.5 488.5 551.4 488 550.8Z" stroke-width="2.88"/>
<path d="M317 36.5L327 36.5" stroke-width="1.84"/>
<path d="M336.5 36.5L349.5 36.5" stroke-width="2.07"/>
<path d="M355.5 37L358 35.8" stroke-width="1.72"/>
<path d="M372.5 36L375 37" stroke-width="1.72"/>
<path d="M377.5 36.8L379.8 36.8" stroke-width="1.84"/>
<path d="M391.5 36.6L394 36.6" stroke-width="1.84"/>
<path d="M400.3 36.6L402.8 36.6" stroke-width="1.84"/>
<path d="M198.8 166.2C202.4 170.9 213.3 184.5 220.6 194.4C227.9 204.3 235.2 215.2 242.5 225.6C249.8 236.0 257.1 247.0 264.4 256.9C271.7 266.8 279.4 275.6 286.2 285C293.0 294.4 299.8 303.7 305 313.1C310.2 322.5 314.4 333.4 317.5 341.2C320.6 349.0 322.8 356.9 323.8 360" stroke-width="3.23"/>
<path d="M211.2 166.2C215.4 171.9 228.4 189.1 236.2 200.6C244.0 212.1 250.8 224.1 258.1 235C265.4 245.9 273.2 256.3 280 266.2C286.8 276.1 293.1 285.5 298.8 294.4C304.5 303.3 309.2 311.6 314.4 319.4C319.6 327.2 327.4 337.6 330 341.2" stroke-width="2.52"/>
<path d="M236.2 185C239.8 190.7 250.3 207.4 258.1 219.4C265.9 231.4 275.3 244.9 283.1 256.9C290.9 268.9 297.7 280.3 305 291.2C312.3 302.1 320.6 315.2 326.9 322.5C333.1 329.8 339.9 332.9 342.5 335" stroke-width="3.23"/>
<path d="M248.8 191.2C252.4 196.4 263.3 212.1 270.6 222.5C277.9 232.9 285.2 243.4 292.5 253.8C299.8 264.2 307.1 275.1 314.4 285C321.7 294.9 330.5 306.3 336.2 313.1C341.9 319.9 346.7 323.5 348.8 325.6" stroke-width="2.52"/>
<path d="M237.8 188.1C240.2 192.8 246.4 206.3 251.9 216.2C257.4 226.1 264.4 237.6 270.6 247.5C276.9 257.4 282.6 265.7 289.4 275.6C296.2 285.5 303.9 297.0 311.2 306.9C318.5 316.8 329.5 330.3 333.1 335" stroke-width="1.8"/>
<path d="M223.8 172.5C227.4 178.8 237.3 196.4 245.6 210C253.9 223.6 264.9 240.3 273.8 253.8C282.7 267.3 291.5 279.8 298.8 291.2C306.1 302.6 311.8 313.6 317.5 322.5C323.2 331.4 330.5 340.8 333.1 344.4" stroke-width="1.8"/>
<path d="M286.2 266.2C288.8 269.3 296.7 278.2 301.9 285C307.1 291.8 311.8 299.6 317.5 306.9C323.2 314.2 333.1 325.1 336.2 328.8" stroke-width="1.8"/>
<path d="M261.2 222.5C264.9 227.7 275.8 243.4 283.1 253.8C290.4 264.2 301.4 279.8 305 285" stroke-width="1.44"/>
<path d="M315.5 439.5C316.2 440.8 317.6 444.9 320 447.5C322.4 450.1 326.2 453.6 330 455C333.8 456.4 338.3 456.6 342.5 456.2C346.7 455.8 351.7 453.9 355 452.5C358.3 451.1 361.2 448.3 362.5 447.5" stroke-width="3.45"/>
<path d="M336.2 437.5L340 450" stroke-width="2.01"/>
<path d="M342.5 435.5L346.2 447.5" stroke-width="2.01"/>
</g>
<g>
<path d="M368 412.8C370.5 412.2 378.0 412.1 383 409C388.0 405.9 393.8 397.3 398 394C402.2 390.7 404.7 389.0 408 389C411.3 389.0 414.7 391.5 418 394C421.3 396.5 424.2 401.1 428 404C431.8 406.9 436.3 409.8 440.5 411.5C444.7 413.2 449.2 414.0 453 414C456.8 414.0 460.1 412.3 463 411.5C465.9 410.7 469.2 409.4 470.5 409" stroke-width="9.77"/>
<path d="M408 389C408.0 386.5 407.4 376.9 408 374C408.6 371.1 411.2 371.9 411.8 371.5" stroke-width="8.62"/>
<path d="M425.5 399C426.3 396.9 428.8 389.0 430.5 386.5C432.2 384.0 434.7 384.4 435.5 384" stroke-width="8.62"/>
<path d="M453 414C453.4 416.1 455.1 422.8 455.5 426.5C455.9 430.2 455.5 434.8 455.5 436.5" stroke-width="8.62"/>
<path d="M458 421.5 L475.5 424" stroke-width="8.05"/>
<path d="M400.5 498C400.5 495.9 400.1 489.7 400.5 485.5C400.9 481.3 400.1 475.3 403 473C405.9 470.7 413.0 472.2 418 471.8C423.0 471.4 429.2 472.0 433 470.5C436.8 469.0 438.0 464.7 440.5 463C443.0 461.3 444.7 461.3 448 460.5C451.3 459.7 455.9 459.7 460.5 458C465.1 456.3 473.0 451.8 475.5 450.5" stroke-width="9.77"/>
<path d="M433 470.5C434.7 471.3 440.5 472.6 443 475.5C445.5 478.4 445.9 484.2 448 488C450.1 491.8 454.2 496.3 455.5 498" stroke-width="9.2"/>
</g>
<g stroke="#fff">
<path d="M368 412.8C370.5 412.2 378.0 412.1 383 409C388.0 405.9 393.8 397.3 398 394C402.2 390.7 404.7 389.0 408 389C411.3 389.0 414.7 391.5 418 394C421.3 396.5 424.2 401.1 428 404C431.8 406.9 436.3 409.8 440.5 411.5C444.7 413.2 449.2 414.0 453 414C456.8 414.0 460.1 412.3 463 411.5C465.9 410.7 469.2 409.4 470.5 409" stroke-width="2.75"/>
<path d="M408 389C408.0 386.5 407.4 376.9 408 374C408.6 371.1 411.2 371.9 411.8 371.5" stroke-width="2.5"/>
<path d="M425.5 399C426.3 396.9 428.8 389.0 430.5 386.5C432.2 384.0 434.7 384.4 435.5 384" stroke-width="2.5"/>
<path d="M453 414C453.4 416.1 455.1 422.8 455.5 426.5C455.9 430.2 455.5 434.8 455.5 436.5" stroke-width="2.5"/>
<path d="M458 421.5 L475.5 424" stroke-width="2.25"/>
<path d="M400.5 498C400.5 495.9 400.1 489.7 400.5 485.5C400.9 481.3 400.1 475.3 403 473C405.9 470.7 413.0 472.2 418 471.8C423.0 471.4 429.2 472.0 433 470.5C436.8 469.0 438.0 464.7 440.5 463C443.0 461.3 444.7 461.3 448 460.5C451.3 459.7 455.9 459.7 460.5 458C465.1 456.3 473.0 451.8 475.5 450.5" stroke-width="2.75"/>
<path d="M433 470.5C434.7 471.3 440.5 472.6 443 475.5C445.5 478.4 445.9 484.2 448 488C450.1 491.8 454.2 496.3 455.5 498" stroke-width="2.5"/>
</g>
<g>

</g>
<path d="M554 31.5L554 53.5" stroke="#666" stroke-width="1.4"/>
</svg>
<div class="t h" id="h1" style="left:4.01px;top:-3.19px;transform:scaleX(0.9985);">ГИПЕРТРОФИРОВАННАЯ</div>
<div class="t h" id="h2" style="left:3.97px;top:30.91px;transform:scaleX(1.0285);">ПРОСТАТА</div>
<div class="t h" id="h3" style="left:562.9px;top:7.21px;transform:scaleX(1.0044);">НОРМАЛЬНАЯ ПРОСТАТА</div>
<div class="t l" id="l1" style="left:430.11px;top:131.85px;transform:scaleX(0.9899);">Мочевой пузырь</div>
<div class="t l" id="l2" style="left:528.71px;top:176.85px;transform:scaleX(0.9932);">Медиальная</div>
<div class="t l" id="l3" style="left:531.7px;top:210.75px;transform:scaleX(0.9595);">доля</div>
<div class="t l" id="l4" style="left:34.82px;top:329.55px;transform:scaleX(0.9921);">Простатические</div>
<div class="t l" id="l5" style="left:34.62px;top:362.45px;transform:scaleX(0.985);">синусы</div>
<div class="t l" id="l6" style="left:34.76px;top:423.05px;transform:scaleX(1.0479);">Простатические</div>
<div class="t l" id="l7" style="left:35.0px;top:458.15px;transform:scaleX(1.0239);">вены</div>
<div class="t l" id="l8" style="left:40.01px;top:541.75px;transform:scaleX(0.9925);">Хирургическая капсула</div>
<div class="t l" id="l9" style="left:41.01px;top:574.95px;transform:scaleX(0.9939);">компрессированная</div>
<div class="t l" id="l10" style="left:41.43px;top:608.75px;transform:scaleX(0.9738);">часть железы</div>
<div class="t l" id="l11" style="left:799.9px;top:371.85px;transform:scaleX(0.9885);">Латеральная</div>
<div class="t l" id="l12" style="left:799.7px;top:404.65px;transform:scaleX(1.0135);">доля</div>
<div class="t l" id="l13" style="left:616.92px;top:600.85px;transform:scaleX(0.98);">Простатическая часть</div>
<div class="t l" id="l14" style="left:617.5px;top:633.95px;transform:scaleX(0.9957);">уретры</div>
</body>
</html>
